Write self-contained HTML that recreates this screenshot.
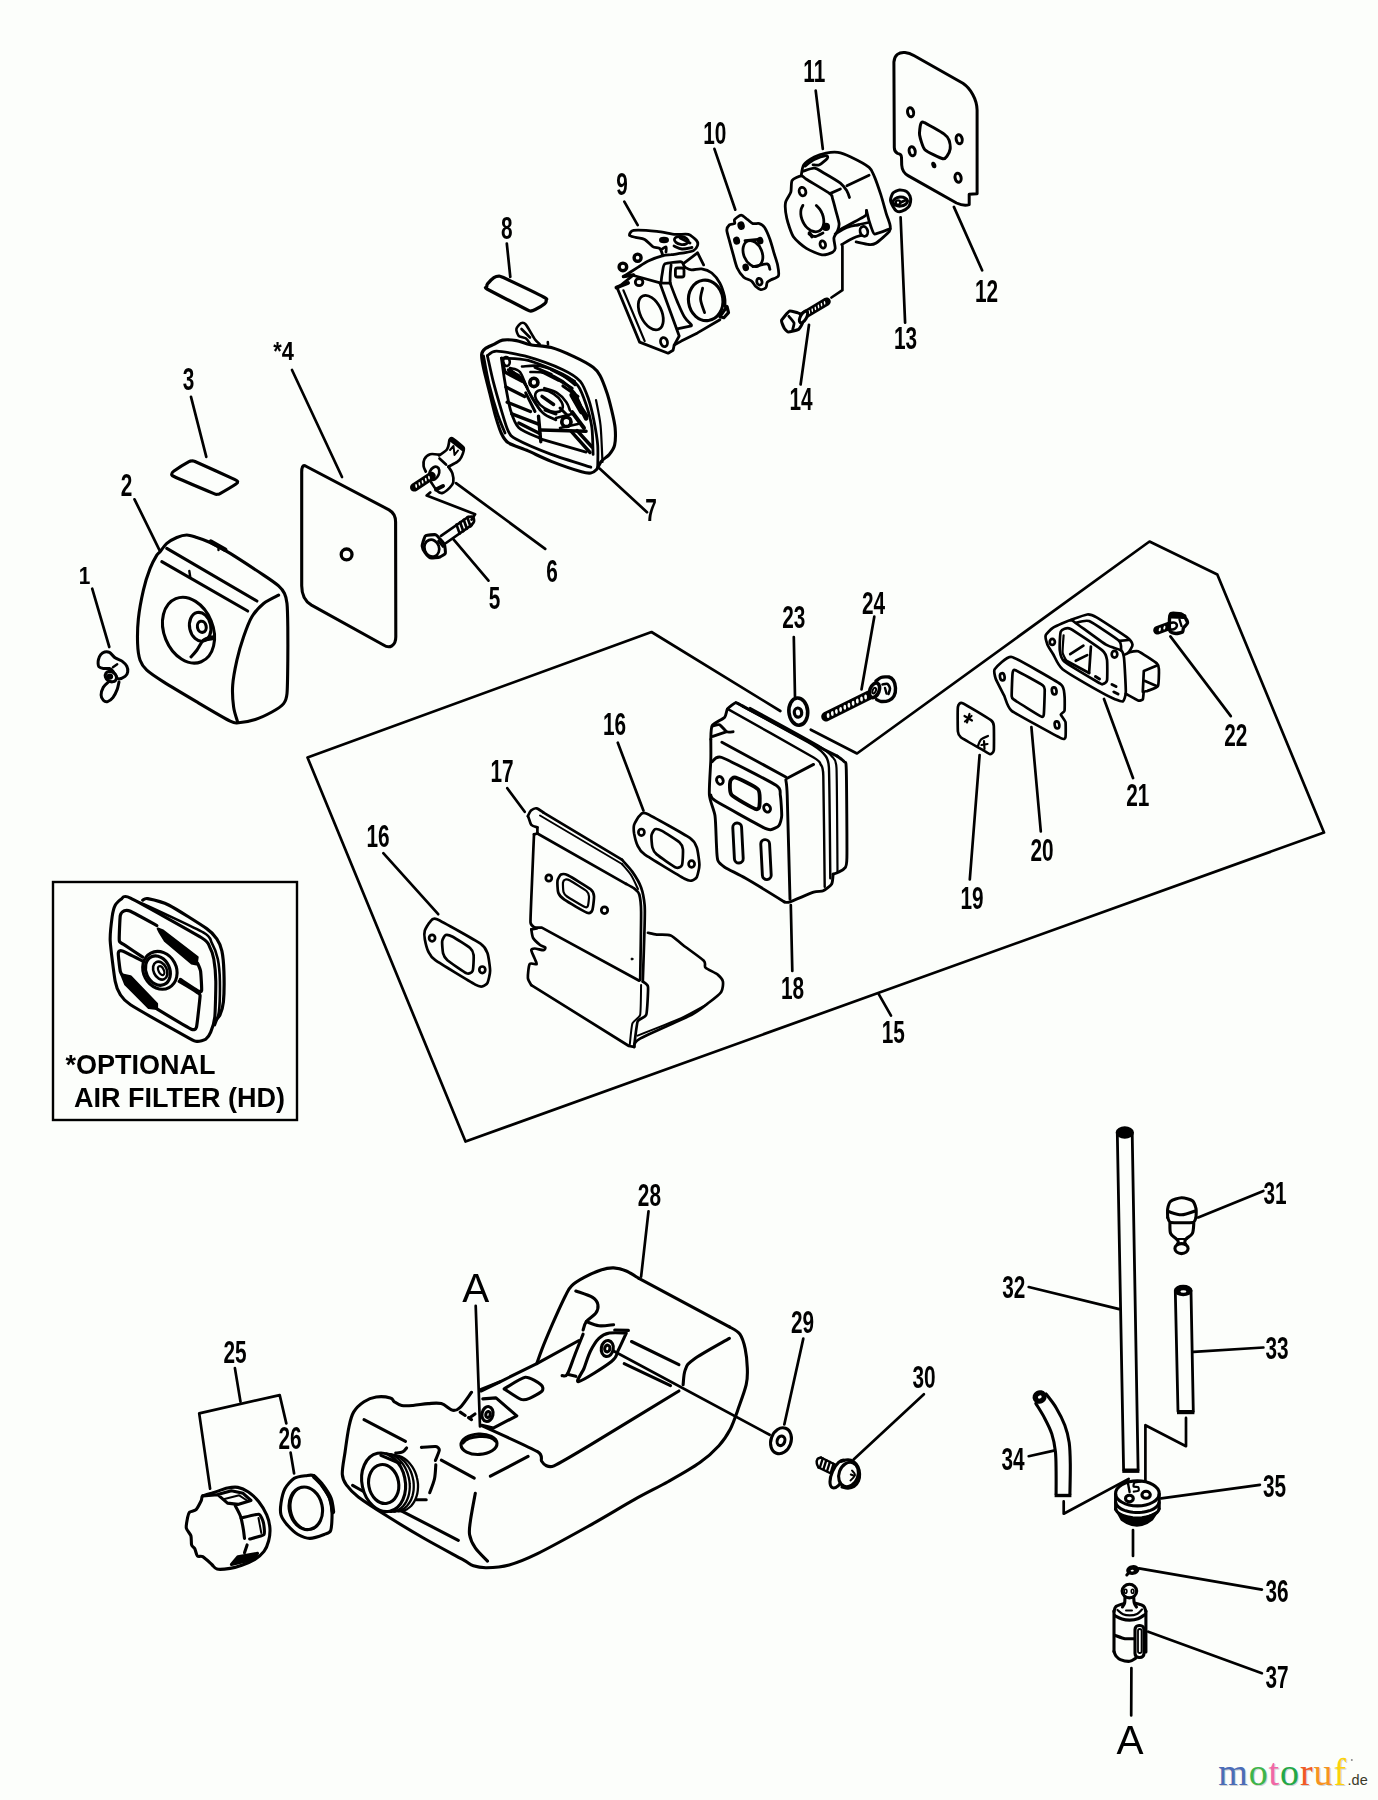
<!DOCTYPE html>
<html><head><meta charset="utf-8"><title>Parts diagram</title>
<style>
html,body{margin:0;padding:0;background:#fcfefb;}
svg{display:block;}
.n{font-family:"Liberation Sans",sans-serif;font-weight:bold;font-size:31.5px;fill:#000;text-anchor:middle;}
.t{font-family:"Liberation Sans",sans-serif;font-weight:bold;font-size:27px;fill:#000;}
.a{font-family:"Liberation Sans",sans-serif;font-size:40.5px;fill:#000;text-anchor:middle;}
.l{stroke:#000;stroke-width:2.7;fill:none;stroke-linecap:round;stroke-linejoin:round;}
.p{stroke:#000;stroke-width:3.1;fill:none;stroke-linecap:round;stroke-linejoin:round;}
.pf{stroke:#000;stroke-width:3.1;fill:#fcfefb;stroke-linecap:round;stroke-linejoin:round;}
.k{fill:#000;stroke:none;}
.w{font-family:"Liberation Serif",serif;font-size:44px;}
</style></head><body>
<svg width="1378" height="1800" viewBox="0 0 1378 1800">
<rect width="1378" height="1800" fill="#fcfefb"/>

<g class="l">
<line x1="92.2" y1="588.7" x2="109.3" y2="647"/>
<line x1="134.5" y1="499.3" x2="159.6" y2="550.4"/>
<line x1="191" y1="396.8" x2="206.3" y2="456.9"/>
<line x1="292" y1="370" x2="342" y2="477"/>
<line x1="506.8" y1="243.5" x2="510.3" y2="277"/>
<line x1="624.3" y1="201.7" x2="637.7" y2="225.1"/>
<line x1="599.6" y1="468.5" x2="647" y2="512.2"/>
<line x1="456" y1="483.1" x2="545.2" y2="548.9"/>
<line x1="453.3" y1="539.1" x2="488.5" y2="580.6"/>
<line x1="809" y1="324.8" x2="800.6" y2="384.5"/>
<line x1="815.7" y1="90.6" x2="822.8" y2="148.9"/>
<line x1="714.4" y1="148.9" x2="735.3" y2="209.7"/>
<line x1="953.9" y1="206.9" x2="982.1" y2="270.3"/>
<line x1="900.6" y1="217.3" x2="905.1" y2="322.6"/>
<line x1="793.8" y1="637" x2="795" y2="696.8"/>
<line x1="617.8" y1="742.7" x2="643.4" y2="810.6"/>
<line x1="507.3" y1="788.2" x2="524.7" y2="811.8"/>
<line x1="383.3" y1="853.2" x2="438.2" y2="914.2"/>
<line x1="790.8" y1="905" x2="792.3" y2="971"/>
<line x1="874.3" y1="616.7" x2="861.5" y2="689.5"/>
<line x1="979.6" y1="755" x2="969.8" y2="879.5"/>
<line x1="1031.4" y1="727.2" x2="1040.8" y2="831.5"/>
<line x1="878.6" y1="993.9" x2="891" y2="1015.6"/>
<line x1="1104" y1="699" x2="1133" y2="778"/>
<line x1="1170.4" y1="636.4" x2="1230.8" y2="716.1"/>
<line x1="234.9" y1="1368.1" x2="240.5" y2="1401.7"/>
<line x1="290.6" y1="1452.6" x2="294.1" y2="1473.5"/>
<line x1="648.5" y1="1211.4" x2="641.1" y2="1276.7"/>
<line x1="475.7" y1="1305.9" x2="480" y2="1426.5"/>
<line x1="613.6" y1="1351" x2="769.6" y2="1434.8"/>
<line x1="803.3" y1="1338.6" x2="784.3" y2="1424.5"/>
<line x1="923.9" y1="1394.2" x2="853.6" y2="1459.5"/>
<line x1="1263.4" y1="1191" x2="1198.2" y2="1217.4"/>
<line x1="1028.7" y1="1287" x2="1119.2" y2="1309.1"/>
<line x1="1263.4" y1="1347.5" x2="1193.5" y2="1351.9"/>
<line x1="1028.7" y1="1456.2" x2="1053.9" y2="1450.6"/>
<line x1="1259.9" y1="1484.8" x2="1161.3" y2="1498.4"/>
<line x1="1261.9" y1="1589.6" x2="1139" y2="1568.4"/>
<line x1="1261.9" y1="1673.2" x2="1148.2" y2="1631.7"/>
<line x1="1133" y1="1530" x2="1133" y2="1556"/>
<line x1="1131.4" y1="1668" x2="1131.2" y2="1715.5"/>
<polyline points="780.3,711 651.5,632 307.5,757.5 465.5,1141.5 1324,832.5 1217.3,574.5 1149.5,541.5 857,753.5 810.8,729.7"/>
<polyline points="842.4,246 842.4,290.2 831.5,297.5"/>
<polyline points="210.1,1488.7 199.2,1413.4 279.7,1395.1 286.3,1423.4"/>
<polyline points="1186,1417.9 1186,1446.2 1145.4,1425.2 1145.4,1484.7"/>
<polyline points="1063.7,1501.4 1063.7,1513.7 1128.7,1478.9"/>
</g>
<!-- p01_cover -->
<g class="p">
<path d="M160.1,551.7C161.5,550.1 164.5,545.4 166.8,543.4C169.1,541.4 174,538.7 176.8,537.5C179.6,536.3 184,535 186.8,535C189.6,535 193.5,536.5 196.8,537.5C200.1,538.5 205.5,540.3 210.2,542.5C214.9,544.7 222.7,548.8 230.2,553.4C237.7,558 256.8,570.6 263.6,575.1C270.4,579.6 275.7,583.3 278.6,585.9C281.5,588.5 283.3,591 284.5,593.5C285.7,596 286.5,598.8 287,603.5C287.5,608.2 287.7,618.9 287.8,626.8C287.9,634.7 287.9,650.8 287.8,660.2C287.7,669.6 287.6,687.5 287,693.6C286.4,699.7 285.7,701 283.6,703.6C281.5,706.2 275.9,709.8 271.9,712C267.9,714.2 260,718 255.3,719.5C250.6,721 242.1,722.6 238.6,722.8C235.1,723 236.1,724 230.2,721.1C224.3,718.2 206.1,707.4 196.8,701.9C187.5,696.4 170.5,686.3 163.5,681.9C156.5,677.5 150.1,673.2 146.8,670.2C143.5,667.2 141.4,663.9 140.1,660.2C138.8,656.5 137.8,649.3 137.6,643.5C137.4,637.7 137.6,626 138.4,618.5C139.2,611 141.8,597.1 143.4,590.1C145,583.1 148.2,573.3 150.1,568.4C152,563.5 155.4,557.4 156.8,555.1C158.2,552.8 158.7,553.3 160.1,551.7Z"/>
<path d="M278.6,595.1C276.1,596.5 268.1,599.9 263.6,603.5C259.2,607.1 255.2,611.2 251.9,616.8C248.6,622.3 246.1,629.6 243.6,636.8C241.1,644 238.7,652.1 236.9,660.2C235.1,668.3 233.2,677.4 232.7,685.2C232.1,693 232.8,700.8 233.6,706.9C234.4,713 237,719.5 237.7,722"/>
<path d="M166.8,548.4 L256.9,601"/>
<path d="M161.8,561.7 L247.7,611"/>
<path style="stroke-width:2.4" d="M189.3,570.9 L190.2,576.8"/>
<path style="stroke-width:4.5" d="M211,541.7 L225.2,549.7"/>
<path style="stroke-width:2.4" d="M218.5,546 L218.5,550"/>
<ellipse cx="188.5" cy="630.2" rx="24.5" ry="34" transform="rotate(-22 188.5 630.2)"/>
<ellipse cx="200.2" cy="626.8" rx="10.6" ry="14.6" transform="rotate(-12 200.2 626.8)"/>
<ellipse cx="201.8" cy="626.8" rx="4.4" ry="5.6" transform="rotate(-12 201.8 626.8)"/>
<path d="M211.9,636.8C210.5,637.4 206,638 203.5,640.2C201,642.4 198.9,647.4 196.8,650.2C194.7,653 192,655.8 191,656.9"/>
<path d="M203.5,640.2 L212.5,638.6"/>
<g style="stroke-width:3">
<path d="M98.5,659.4C98.8,658.2 99.9,655.6 100.7,654.6C101.5,653.6 103.4,652.3 104.6,652C105.8,651.7 107.9,651.6 109.4,652.4C110.9,653.2 113.8,656.9 115.5,658.1C117.2,659.3 120.5,660 122,661.1C123.5,662.2 126,664.8 126.8,666.3C127.6,667.8 127.9,670.7 127.7,672C127.5,673.3 126.3,675.5 125.1,676.4C123.9,677.3 120.2,678.9 119,679C117.8,679.1 117.1,677.9 116.3,676.8C115.5,675.7 113.8,672.2 112.9,671.1C112,670 110.7,668.8 109.4,668.5C108.1,668.2 104.7,668.7 103.3,668.5C101.9,668.3 99.6,667.5 98.9,666.8C98.2,666.1 98.2,664.3 98.1,663.3C98,662.3 98.2,660.6 98.5,659.4Z"/>
<path d="M108.5,682C107.7,682.8 104.4,685.2 103.3,687.2C102.2,689.2 101.1,693.1 101.1,695.1C101.1,697.1 102.3,699.3 103.3,700.3C104.3,701.3 106.2,702 107.6,701.6C109,701.2 111.5,699.5 112.9,697.7C114.3,695.9 116.3,691.8 117.2,689.4C118.1,687 118.7,683.1 119,682"/>
<ellipse class="pf" cx="110.9" cy="676.6" rx="6" ry="4.8" transform="rotate(35 110.9 676.6)"/>
<ellipse style="fill:#000;stroke-width:1.5" cx="109.8" cy="676.6" rx="2.6" ry="2.4"/>
<path style="stroke-width:2.4" d="M112.9,667.2 L117.2,664.2"/>
</g>
<path d="M171.9,473.6C171.9,473.1 172.6,472 174,471C175.4,470 187.5,462.4 189,461.6C190.5,460.8 191.4,460.9 191.9,460.9C192.4,460.9 191.4,459.9 195,461.5C198.6,463.1 231.4,477.9 235,479.6C238.6,481.3 237.6,481.5 237.7,481.9C237.8,482.3 237.5,483 236,484C234.5,485 221.6,492.7 220,493.6C218.4,494.5 217.5,494.3 217,494.3C216.5,494.3 217.6,495.1 214,493.6C210.4,492.1 177.5,478.2 174,476.5C170.5,474.8 171.9,474.1 171.9,473.6Z"/>
<path d="M305.5,466 L389,509.8 Q395.6,513.5 395.6,522 L395.8,636.8 C395.8,646 389.5,649 383.5,645 L311.5,605.2 C304.5,601 301.7,594 301.7,585.7 L301.7,473.2 Q301.5,464 305.5,466 Z"/>
<ellipse style="stroke-width:3.3" cx="346.6" cy="554.4" rx="5.4" ry="5.4"/>
</g>
<!-- p05_screws -->
<g class="p">
<g style="stroke-width:2.7">
<path d="M449.3,440.9C449.6,440.6 450.6,437.5 452,438.2C453.4,438.9 462.7,445.7 463.6,447.6C464.5,449.5 462,455.8 461.3,457.3C460.6,458.8 458.2,461.3 456.9,462.2C455.6,463.1 449.2,466.2 448.4,466.7"/>
<path style="stroke-width:4" d="M450.5,439.5 L462.5,449"/>
<path d="M449.3,440.9C448.9,442.3 448.8,446.9 447.1,449.3C445.4,451.7 440.4,454.5 439.1,455.5"/>
<path d="M439.5,458.5 L446,464.5"/>
<path style="stroke-width:2" d="M450,450 L453.5,446 L454.5,455 L458,450.5"/>
<path d="M439.1,454.7C437.6,454.6 432.6,453.5 430.2,454.2C427.8,454.9 425.5,457.1 424.4,459.1C423.3,461.1 423.4,464.1 423.6,466.2C423.8,468.3 425.4,470.7 425.8,471.6"/>
<path d="M448.4,466.7C449,467.7 451.7,471 452.4,473.3C453.1,475.6 453.7,480.1 453.3,482.2C452.9,484.3 451.4,486 449.8,487.6C448.2,489.2 444.6,492.4 442.7,492.9C440.8,493.4 439,492.7 437.3,491.1C435.6,489.5 432,483.5 431.1,482.2"/>
<path style="stroke-width:4" d="M436,489.5 L443,486"/>
<ellipse cx="434.2" cy="473.3" rx="4.6" ry="6.9" transform="rotate(25 434.2 473.3)"/>
<path d="M414.3,487.3 L431.5,476" style="stroke-width:8.6;stroke-linecap:round"/>
<ellipse cx="416.2" cy="486" rx="0.9" ry="1.9" transform="rotate(-8.3 416.2 486)" style="fill:#fcfefb;stroke:none"/>
<ellipse cx="419.4" cy="483.9" rx="0.9" ry="1.9" transform="rotate(-8.3 419.4 483.9)" style="fill:#fcfefb;stroke:none"/>
<ellipse cx="422.6" cy="481.8" rx="0.9" ry="1.9" transform="rotate(-8.3 422.6 481.8)" style="fill:#fcfefb;stroke:none"/>
<ellipse cx="425.8" cy="479.7" rx="0.9" ry="1.9" transform="rotate(-8.3 425.8 479.7)" style="fill:#fcfefb;stroke:none"/>
<ellipse cx="429" cy="477.6" rx="0.9" ry="1.9" transform="rotate(-8.3 429 477.6)" style="fill:#fcfefb;stroke:none"/>
<path d="M430.2,492.4 L426.7,495.6 L475.1,514.2 L471.6,519.6"/>
<path d="M468,517 L441,535.8"/>
<path d="M471.5,525.2 L446,543"/>
<path d="M468,517C468.7,517 472.2,516.2 473,516.8C473.8,517.4 474.2,520.4 474,521.5C473.8,522.6 471.8,524.7 471.5,525.2"/>
<path d="M456.5,524.6 L459.7,533.6"/>
<path d="M460.1,522.2 L463.3,531.2"/>
<path d="M463.7,519.8 L466.9,528.8"/>
<path d="M467.3,517.4 L470.5,526.4"/>
<path class="pf" d="M425.8,535.6C426.8,535.2 434.4,534.4 435.6,534.7C436.8,535 439.3,538.3 440,539.1C440.7,539.9 444,543.2 444.4,544.4C444.8,545.6 445.7,552.3 445.3,553.3C444.9,554.3 441.3,556.5 440,556.9C438.7,557.3 431.5,558.2 430.2,557.8C428.9,557.4 425.6,553.4 424.9,552.4C424.2,551.4 422.3,547.3 422.2,546.2C422.1,545.1 423.7,540 424,539.1C424.3,538.2 424.8,536 425.8,535.6Z"/>
<ellipse cx="431.8" cy="548.2" rx="7.3" ry="8.6" transform="rotate(-20 431.8 548.2)"/>
<path d="M438.5,541 L443,546.5"/>
</g>
</g>
<!-- p07_base -->
<g class="p">
<path style="stroke-width:3.3" d="M486.7,287C486.7,286.5 486.7,285 487.4,284.1C488.1,283.2 492.7,278.4 493.9,277.6C495.1,276.8 498.1,276.1 499,276.1C499.9,276.1 498.9,275.5 503.4,277.6C507.9,279.7 539.7,294.9 544,297.2C548.3,299.4 546.1,299.5 546.2,300.1C546.3,300.8 545.8,302.8 544.7,303.7C543.6,304.6 536.7,308.8 535.3,309.5C533.9,310.2 531.9,311 531,311C530.1,311 531,311.7 526.6,309.5C522.2,307.3 491.4,291.4 487.4,289.2C483.4,286.9 486.7,287.5 486.7,287Z"/>
<path d="M481.6,354.6C481.8,351.8 483.4,350.2 485.1,348.8C486.8,347.4 492.1,345.3 494.4,344.1C496.7,342.9 499.6,340.6 502.5,340.1C505.4,339.6 512.7,340 516.4,340.6C520.1,341.2 525.7,343.8 530.4,344.7C535.1,345.6 545.4,346 551.3,347.6C557.2,349.2 568.9,354.3 574.5,356.9C580.1,359.5 589.7,364.8 593.1,367.3C596.5,369.8 598.1,372.1 600,375.5C601.9,378.9 605.4,388.3 607,392.9C608.6,397.5 610.6,405.7 611.7,410.3C612.8,414.9 614.7,423.1 615.1,427.7C615.5,432.3 615.4,441.5 614.6,445.1C613.8,448.7 611.1,452.2 609.3,454.4C607.5,456.6 602.9,459.4 601.2,461.4C599.5,463.4 598,468 596.6,469.5C595.2,471 592.8,472.7 590.8,473C588.8,473.3 586.8,473.3 581.5,471.8C576.2,470.3 558.4,464.2 551.3,461.4C544.2,458.6 533.8,453.4 528.1,450.9C522.4,448.4 511.9,445.1 508.3,442.8C504.7,440.5 503.1,437.1 501.4,433.5C499.7,429.9 497.1,421.5 495.5,416.1C493.9,410.7 491.2,399.1 489.7,392.9C488.2,386.7 485,374.8 483.9,369.7C482.8,364.6 481.4,357.4 481.6,354.6Z"/>
<g style="stroke-width:2.8">
<path d="M487.4,355.7C488.6,355.1 491.3,350.9 496.7,351.1C502.1,351.3 519.3,354.4 528.1,356.9C536.9,359.4 555.9,366.4 562.9,369.7C569.9,373 576.9,377.4 580.3,381.3C583.7,385.2 586.5,393.3 588.4,398.7C590.3,404.1 593,415.7 594.2,421.9C595.4,428.1 597.2,439.1 597.7,445.1C598.2,451.1 597.7,464.3 597.7,467.2"/>
<path d="M590.8,467.2C585.5,465.5 561.2,458.1 551.3,454.4C541.4,450.7 522.1,442.4 516.4,439.3C510.7,436.2 510.3,435.1 508.3,431.2C506.3,427.3 503.4,417 501.4,410.3C499.4,403.6 495.1,388.6 493.2,381.3C491.3,374 488.2,359.1 487.4,355.7"/>
<path d="M483.5,356C484.2,359.7 487.1,376.3 489,384C490.9,391.7 495.4,407.5 497.5,414C499.6,420.5 504,430.5 505,433"/>
<path d="M501.4,358.1C505,358.4 519.9,358.2 528.1,360.4C536.3,362.6 556.2,370.9 562.9,374.3C569.6,377.7 574.9,381.9 578,385.9C581.1,389.9 584.2,398.9 586.1,404.5C588,410.1 591,421 591.9,427.7C592.8,434.4 592.9,450.8 593.1,454.4"/>
<path d="M586.1,452.1 L542,439.3"/>
<path d="M501.4,358.1C501.9,361.2 503.6,374.3 504.8,381.3C506,388.3 508.7,404.1 510.6,410.3C512.5,416.5 514.9,424 518.8,427.7C522.7,431.4 536.9,436.8 539.7,438.2"/>
<path style="stroke-width:2.2" d="M596,400C596.6,403.3 599.6,416.7 600.5,425C601.4,433.3 602.2,457.1 602.5,462"/>
</g>
<g style="stroke-width:3.4">
<path d="M504.8,372 L522.2,381.3"/>
<path d="M506,387.1 L524.6,396.4"/>
<path d="M507.2,402.2 L530.4,411.5"/>
<path d="M511.8,413.8 L538.5,424.2"/>
<path d="M518.8,423.1 L539.7,433.5"/>
<path d="M538.5,416.1 L540.8,441.7"/>
<path d="M540.8,430 L586.1,431.2"/>
<path d="M571,431.2 L590,452.5"/>
<path d="M577,430.5 L592,447"/>
<path d="M542,396.4 L553.6,404.5"/>
<path style="stroke-width:5" d="M574.5,398.7 L586.1,416.1"/>
<path style="stroke-width:4" d="M572,412 L584,428"/>
</g>
<g style="stroke-width:2.6">
<ellipse cx="549" cy="401" rx="15.5" ry="8.5" transform="rotate(33 549 401)"/>
<path d="M530.4,372C532.9,372.2 540.1,371.6 545.5,373.1C550.9,374.7 558.1,378 562.9,381.3C567.7,384.6 571.6,389 574.5,392.9C577.4,396.8 579.3,402.6 580.3,404.5"/>
<path d="M522,366.5C525,366.4 533.7,364.8 540,366C546.3,367.2 554.2,370.3 560,373.5C565.8,376.7 572.5,383.1 575,385"/>
<path d="M544.3,388.2C546.4,389 553.4,390.6 557.1,392.9C560.8,395.2 564.3,399.3 566.4,402.2C568.5,405.1 569.3,408.9 569.9,410.3"/>
<path d="M524,381C525.3,383.8 528.8,392.7 532,398C535.2,403.3 539,409.3 543,413C547,416.7 553.8,418.8 556,420"/>
<path d="M510,368C511.7,368.7 517,368.3 520,372C523,375.7 524.7,383.7 528,390C531.3,396.3 538,406.7 540,410"/>
<ellipse cx="533.9" cy="382.4" rx="4" ry="4.2"/>
<ellipse cx="566.4" cy="421.9" rx="4.6" ry="4.6"/>
<ellipse cx="506.5" cy="361.5" rx="3.2" ry="4.5" transform="rotate(-10 506.5 361.5)"/>
<path d="M556,418 L572,414"/>
<path d="M560,428 L578,424"/>
<path d="M530.4,344.1C529.8,343.3 527.2,339.4 525.7,338.3C524.2,337.2 520,337.2 518.8,336C517.6,334.8 516.1,330.7 516.4,329C516.7,327.3 519.9,323.8 521.1,323.2C522.3,322.6 523.8,322.2 525.7,324.4C527.6,326.6 533.1,336.9 535,339.5C536.9,342.1 539.1,343.5 539.7,344.1"/>
<path d="M521.5,329 L530,337.5"/>
<path d="M547.8,342 L548,344.5"/>
</g>
<g style="stroke-width:3">
<path d="M508.3,369.7 L518.8,375.5"/>
<path d="M535,367.3 L551.3,374.3"/>
<path d="M542,372 L558.2,380.1"/>
<path d="M551.3,369.7 L574.5,381.3"/>
<path d="M557.1,379 L572.2,388.2"/>
<path d="M562.9,385.9 L578,396.4"/>
<path d="M525.7,392.9 L535,411.5"/>
<path d="M503,363 L505,372"/>
<path d="M520,377 L527,387"/>
<path d="M545,410 L556,414"/>
<path d="M560,408 L568,416"/>
<path style="stroke-width:5.5" d="M572.2,395.2 L581.5,411.5"/>
<path style="stroke-width:4.5" d="M578,402.2 L586.1,418.4"/>
<path style="stroke-width:5" d="M510,371 L517,377"/>
<ellipse style="stroke-width:3.6" cx="566.4" cy="421.9" rx="4.6" ry="4.6"/>
<ellipse style="stroke-width:3.6" cx="533.9" cy="382.4" rx="4" ry="4.2"/>
</g>
</g>
<!-- p09_carb -->
<g class="p">
<g style="stroke-width:2.8">
<path d="M633.5,275 L623.4,283.1 L617.3,288.2 L639.6,342.1 L668.1,353.2 L673.1,350.2 L674.2,345.1 L679.2,336 L659.9,283.1"/>
<path style="stroke-width:2.2" d="M623.4,290.3 L644.7,341.1"/>
<path style="stroke-width:4" d="M616.5,287.5 L628,283"/>
<path d="M633.5,275.5 L661,283.1 L670.1,283.1"/>
<ellipse cx="650.8" cy="312.6" rx="10.6" ry="18.5" transform="rotate(-26 650.8 312.6)"/>
<ellipse cx="664" cy="342.1" rx="3.4" ry="4.6" transform="rotate(-15 664 342.1)"/>
<ellipse cx="639.1" cy="282.1" rx="3.8" ry="3.6"/>
<ellipse style="stroke-width:3.4" cx="637.6" cy="257.7" rx="3.5" ry="3.6"/>
<ellipse style="stroke-width:3.4" cx="622.9" cy="266.9" rx="3.8" ry="3.8"/>
<path d="M661,283.1C661.1,282 662.1,273.9 662.5,272C662.9,270.1 663.1,264.8 665,263.8C666.9,262.8 679.4,261.5 681.3,261.8C683.2,262.1 684,266.4 684.3,266.9"/>
<path d="M670.1,283.1C670.1,282.1 670.2,274.8 670.3,273C670.4,271.2 671,265.7 671.1,264.9"/>
<path d="M670.1,283.1C671.3,286.2 674.8,295.8 677.2,301.4C679.6,307 681.9,312.8 684.3,316.7C686.7,320.6 690.2,323.4 691.4,324.8"/>
<path d="M677.2,328.9 L691.4,325.8"/>
<rect x="675.4" y="268" width="8.6" height="9" rx="2"/>
<ellipse class="pf" cx="705.7" cy="300.4" rx="17.2" ry="20.3" transform="rotate(-8 705.7 300.4)"/>
<path d="M684.3,266.9C685.5,267.4 688.5,269.6 691.4,269.9C694.3,270.2 698.2,268.4 701.6,268.9C705,269.4 708.8,270.6 711.8,273C714.8,275.4 717.8,279.2 719.9,283.1C722,287 723.6,292.5 724.5,296.4C725.4,300.3 724.9,304.8 725,306.5"/>
<path d="M702.6,288.2C702.3,290.1 700.3,295.3 700.6,299.4C700.9,303.5 703.9,310.4 704.6,312.6"/>
<path style="stroke-width:3.2" d="M719.9,316.7 L727,306.5 L728.5,312.6 L723.9,317.7Z"/>
<path d="M719.9,319.7 L697.5,332.9 L681.3,341.1 L674.2,345.1"/>
<path d="M684.3,262.8 L696.5,253.7"/>
<path d="M697.5,252.7 L703.6,264.9"/>
<path d="M624.4,276C626.1,274.9 635.8,268.7 638.6,266.9C641.4,265.1 646,262.1 648.8,260.8C651.6,259.5 660.4,256.4 663,255.7C665.6,255 668.5,255 671.1,254.7C673.7,254.3 682.7,253.2 685.3,252.7C687.9,252.2 692.1,251.4 693.5,250.6C694.9,249.8 697.1,246.8 697.5,245.6C697.9,244.4 697.6,241.8 696.5,240.5C695.4,239.2 690.9,235.1 688.4,234.4C685.9,233.7 678.9,234.8 675.2,234.4C671.5,234 661.8,231.8 656.9,231.3C652,230.8 636.7,229.8 633.5,230.3C630.3,230.8 629.3,234.6 629.5,235.4C629.7,236.2 633.8,236.9 635.6,237.4C637.4,237.9 642.7,238.4 644.7,239.5C646.7,240.6 651,245.5 652.8,246.6C654.6,247.7 658.7,247.5 659.9,248.6C661.1,249.7 662.6,254.9 663,255.7"/>
<path style="stroke-width:3.6" d="M623.5,276.5 L633.5,275"/>
<ellipse style="fill:#000" cx="664" cy="240" rx="3.6" ry="1.8"/>
<ellipse cx="681.3" cy="240.5" rx="7" ry="4" transform="rotate(10 681.3 240.5)"/>
<path d="M674,246C675.3,246.5 679,248.8 682,249C685,249.2 690.3,247.8 692,247.5"/>
<path d="M680,238 L690,243"/>
<path d="M662,249C662.7,248.7 665.3,246.5 666,247C666.7,247.5 666,251.2 666,252"/>
</g>
</g>
<!-- p10_gasket_bracket -->
<g class="p">
<g style="stroke-width:2.8">
<path d="M734.6,219.7C735.5,218.6 739.4,215.1 741.1,215.1C742.8,215.1 746.1,218.6 747.7,219.7C749.3,220.8 751.3,223.1 752.9,223.6C754.5,224.1 757.8,223.1 759.4,223.6C761,224.1 763.2,225.4 764.6,227.5C766,229.6 768.7,236 769.9,239.3C771.1,242.6 772.8,248.8 773.8,252.3C774.8,255.8 777.1,262.3 777.7,265.4C778.3,268.5 779.3,273.9 778.4,275.8C777.5,277.7 772.7,278.9 771.2,279.8C769.7,280.7 767.9,281.4 767.2,282.4C766.5,283.4 766.8,286.6 765.9,287.6C765,288.6 762.1,289.8 760.7,289.6C759.3,289.4 756.7,287.4 755.5,286.3C754.3,285.2 753.2,282.3 751.6,281.1C750,279.9 745.6,278.9 743.7,277.2C741.8,275.5 738.6,271 737.2,268C735.8,265 734.3,258.6 733.3,254.9C732.3,251.2 730.3,243.9 729.4,240.6C728.5,237.3 726.8,232.2 726.8,230.1C726.8,228 728.4,225.8 729.4,224.9C730.4,224 733.9,224.3 734.6,223.6C735.3,222.9 733.7,220.8 734.6,219.7Z"/>
<ellipse cx="752.9" cy="253.6" rx="9.2" ry="13.6" transform="rotate(-22 752.9 253.6)"/>
<path d="M745,240.6 L758,239.3"/>
<path d="M752.9,266.7C754.8,266.3 764.9,263.7 767.2,264C769.5,264.3 769.5,268.6 769.9,269.3"/>
<ellipse style="fill:#000;stroke-width:1.5" cx="741.1" cy="225.6" rx="2.9" ry="3.5" transform="rotate(-15 741.1 225.6)"/>
<ellipse style="fill:#000;stroke-width:1.5" cx="736.6" cy="240.6" rx="2.7" ry="3.3" transform="rotate(-15 736.6 240.6)"/>
<ellipse style="fill:#000;stroke-width:1.5" cx="760.1" cy="240.6" rx="2.5" ry="3.1" transform="rotate(-15 760.1 240.6)"/>
<ellipse style="fill:#000;stroke-width:1.5" cx="745.7" cy="267.4" rx="2.5" ry="3.1" transform="rotate(-15 745.7 267.4)"/>
<ellipse cx="759.4" cy="281.7" rx="2.6" ry="3.4" transform="rotate(-15 759.4 281.7)"/>
<path d="M792.1,180.5C790.9,182.4 791.6,189.6 790.8,192.2C790,194.8 786,199.6 785.5,202.7C785,205.8 785.9,214.4 786.8,218.4C787.7,222.4 791.1,233.2 793.4,236.7C795.7,240.2 803.1,246.3 806.4,248.4C809.7,250.5 819,254.4 822.1,254.9C825.2,255.4 831.1,253.1 832.6,252.3C834.1,251.5 835,250.1 835.2,248.4C835.4,246.7 833.6,240.1 833.9,238C834.2,235.9 837.2,231.8 837.8,230.1C838.4,228.4 839.3,225.6 839.1,223.6C838.9,221.6 837.3,216 836.5,213.1C835.7,210.2 833.4,201.1 832.6,198.8C831.8,196.5 833,195.9 829.9,193.6C826.8,191.3 809.7,181.3 806.4,179.2C803.1,177.1 802.9,175.7 801.2,175.9C799.5,176.1 793.3,178.6 792.1,180.5Z"/>
<path d="M801.2,175.9C801.5,174.4 802.1,167.3 803.8,164.8C805.5,162.3 811.3,158.6 814.3,157C817.3,155.4 822.9,153.7 826,153.1C829.1,152.5 834.5,151.9 837.8,152.4C841.1,152.9 846.6,155 850.8,157C855,159 866,164.8 869.1,167.4C872.2,170 872.8,172.9 874.4,176.6C876,180.3 879.3,190 880.9,194.9C882.5,199.8 884.9,209.1 886.1,213.1C887.3,217.1 889.6,222.5 890,224.9C890.4,227.3 891.3,229 889.4,231.4C887.5,233.8 878.4,241.5 875.7,243.2C873,244.9 871.7,244.7 869.1,244.5C866.5,244.3 857.8,242.2 856.1,241.9"/>
<path d="M805.1,166.1C806.3,165.2 811.5,161 814.3,159.6C817.1,158.2 824.3,155.9 826,155.7C827.7,155.5 828.2,157.1 827.3,158.3C826.4,159.5 821.4,163.9 819.5,164.8C817.6,165.7 813.9,164.8 813,164.8"/>
<path d="M802.5,171.4C804.1,171 811.5,167.9 814.3,168.1C817.1,168.3 819.9,170.7 823.4,172.7C826.9,174.7 837.3,180.7 840.4,183.1C843.5,185.5 845.7,189 846.9,190.9C848.1,192.8 849.2,196.6 849.5,197.5"/>
<path d="M829.9,193.6 L840.4,189"/>
<path d="M846.9,185.7 L869.1,175.3"/>
<path d="M839.1,230.1C840.8,229.1 863.4,217.1 865.2,215.8C867,214.5 866.4,210.9 866.5,210.5"/>
<path d="M866.5,210.5C866.7,211.2 868.6,219.4 869.1,221C869.6,222.6 873,233.5 874.4,234C875.8,234.5 889,229.1 890,228.8"/>
<path d="M835.2,234C837.2,232.9 843,229 846.9,227.5C850.8,226 856.7,225.3 858.7,224.9"/>
<path d="M841.7,244.5C843.7,243.4 850.2,239.5 853.5,238C856.8,236.5 860,235.8 861.3,235.4"/>
<path d="M857,225 L868.5,222.5"/>
<ellipse cx="863.9" cy="231.4" rx="3.8" ry="5" transform="rotate(-15 863.9 231.4)"/>
<path d="M816.3,205.4C816.9,206 818.8,207.8 819.9,209.3C820.9,210.7 821.8,212.4 822.4,214.1C823.1,215.8 823.5,217.6 823.7,219.3C823.9,221 823.9,222.7 823.6,224.2C823.3,225.7 822.8,227.1 822.1,228.3C821.4,229.4 820.4,230.3 819.3,230.9C818.3,231.5 817,231.8 815.7,231.8C814.4,231.8 813,231.5 811.6,230.9C810.3,230.3 808.9,229.4 807.7,228.3C806.4,227.2 805.2,225.7 804.3,224.2C803.3,222.7 802.5,221 801.9,219.3C801.3,217.6 800.9,215.8 800.8,214.1C800.7,212.4 800.8,210.7 801.1,209.3C801.5,207.8 802.6,206.1 802.9,205.4"/>
<ellipse style="fill:#000;stroke-width:1.5" cx="826" cy="226.9" rx="3.3" ry="3.3"/>
<path d="M809,234C810,234.4 812.7,236.7 815,236.5C817.3,236.3 821.7,233.6 823,233"/>
<path style="stroke-width:3.6" d="M809.5,233 L812,236.5"/>
<ellipse cx="802.5" cy="191.6" rx="3.3" ry="4.3" transform="rotate(-15 802.5 191.6)"/>
<ellipse cx="822.8" cy="244.5" rx="2.7" ry="3.7" transform="rotate(-15 822.8 244.5)"/>
<path d="M826.6,301.6 L803.5,315.5" style="stroke-width:8.4;stroke-linecap:round"/>
<ellipse cx="824.6" cy="302.8" rx="0.8" ry="1.9" transform="rotate(174 824.6 302.8)" style="fill:#fcfefb;stroke:none"/>
<ellipse cx="821.5" cy="304.6" rx="0.8" ry="1.9" transform="rotate(174 821.5 304.6)" style="fill:#fcfefb;stroke:none"/>
<ellipse cx="818.5" cy="306.5" rx="0.8" ry="1.9" transform="rotate(174 818.5 306.5)" style="fill:#fcfefb;stroke:none"/>
<ellipse cx="815.4" cy="308.3" rx="0.8" ry="1.9" transform="rotate(174 815.4 308.3)" style="fill:#fcfefb;stroke:none"/>
<ellipse cx="812.3" cy="310.2" rx="0.8" ry="1.9" transform="rotate(174 812.3 310.2)" style="fill:#fcfefb;stroke:none"/>
<ellipse cx="809.3" cy="312" rx="0.8" ry="1.9" transform="rotate(174 809.3 312)" style="fill:#fcfefb;stroke:none"/>
<ellipse cx="806.2" cy="313.9" rx="0.8" ry="1.9" transform="rotate(174 806.2 313.9)" style="fill:#fcfefb;stroke:none"/>
<path class="pf" d="M781.6,320.3C782,319.2 788.3,311.5 789.5,311.1C790.7,310.7 799,312.9 799.9,313.7C800.8,314.5 802.6,321.9 802.5,322.9C802.4,323.9 799.6,328.8 798.6,329.4C797.6,330 789.1,332.1 788.1,332C787.1,331.9 784.6,328.9 784.2,328.1C783.8,327.3 781.2,321.4 781.6,320.3Z"/>
<path d="M788.8,316.3C789.3,317 793.6,321.6 794,322.9C794.4,324.2 792.8,328.8 792.7,329.4"/>
<ellipse class="pf" cx="803.5" cy="317" rx="3" ry="6.5" transform="rotate(30 803.5 317)"/>
</g>
</g>
<!-- p12_gasket -->
<g class="p">
<g style="stroke-width:3">
<path d="M893.9,62 C894.5,55 899,52 905,52.6 C909,53 912,54.5 914.3,55.8 L962.9,83.3 C970.5,88.5 976.8,99 977.1,110 L977.1,193.8 L969.2,194.3 L969.2,204.6 C966,205.6 960,204.6 956.5,203 L908,175.6 C903.5,173 902,170 901.7,165 L901.5,157.5 C901.3,154.5 900.3,154.2 897.5,153.3 C895.2,152.3 894.3,150 894.3,147.6 Z"/>
<path d="M920.6,124.4C921,123.1 921.5,121.3 923.8,122.3C926.1,123.2 941.4,132.1 943.9,133.9C946.4,135.7 948.5,138.7 949.1,140.2C949.7,141.7 950.4,147.1 950.2,148.7C950,150.3 947.7,155.1 947,156.1C946.3,157.1 945,159.3 942.8,158.7C940.6,158.1 927.2,152.1 924.9,149.7C922.6,147.3 920,137.5 919.6,135C919.2,132.5 920.2,125.7 920.6,124.4Z"/>
<ellipse cx="910.6" cy="112.3" rx="3" ry="4.6" transform="rotate(-12 910.6 112.3)"/>
<ellipse cx="959.2" cy="139.2" rx="3" ry="4.6" transform="rotate(-12 959.2 139.2)"/>
<ellipse cx="912.2" cy="151.3" rx="3" ry="4.6" transform="rotate(-12 912.2 151.3)"/>
<ellipse cx="958.1" cy="177.7" rx="3" ry="4.6" transform="rotate(-12 958.1 177.7)"/>
<ellipse style="fill:#000;stroke-width:1.6" cx="933.8" cy="165" rx="1.6" ry="2.6" transform="rotate(-20 933.8 165)"/>
<path d="M890.5,200C890.5,198.4 892,194.2 893,193C894,191.8 897.9,190.2 899.5,190C901.1,189.8 905.3,190.8 906.5,191.5C907.7,192.2 909.5,194.8 910,196C910.5,197.2 910.7,200.7 910.5,202C910.3,203.3 909.5,205.9 908.5,207C907.5,208.1 903.4,210.7 902,211.2C900.6,211.7 897.5,211.5 896.5,211C895.5,210.5 893.7,207.8 893,206.5C892.3,205.2 890.5,201.6 890.5,200Z"/>
<ellipse cx="900.3" cy="201.6" rx="7.3" ry="4.5" transform="rotate(-5 900.3 201.6)"/>
<ellipse style="stroke-width:2.2" cx="898" cy="202.6" rx="2.2" ry="2.2"/>
<path d="M900.5,202.5 L906,200"/>
</g>
</g>
<!-- p17_shield -->
<g class="p">
<g style="stroke-width:2.7">
<path d="M527.9,816.1C528.3,815.4 529.8,811.5 531,810.5C532.2,809.5 534.9,808 536.6,808.3C538.3,808.6 542.6,812 543.5,812.6"/>
<path d="M543.5,812.6 L621.9,859.7"/>
<path d="M621.9,859.7C623.3,861.3 629.8,868.2 632.4,871.9C635,875.6 639.5,883.1 641.1,887.5C642.7,891.9 644.1,899.8 644.6,904.9C645.1,910 644.8,915.6 644.6,925.8C644.4,936 643,974.2 642.8,981.6"/>
<path d="M527.9,816.1C528,816.3 528.2,816.7 528.7,817.9C529.2,819.1 530.1,823.5 531.3,824.8C532.5,826.1 536.6,827.1 537.4,827.4"/>
<path d="M534,834.4 L537.4,833.5"/>
<path d="M537.4,827.4 L537.4,833.5"/>
<path d="M537.4,833.5 L626,883.8"/>
<path d="M626,883.8C627.1,884.4 632.3,887 634.1,888.4C635.9,889.8 638.4,891.4 639.3,894.5C640.2,897.6 641,900.5 641.1,911.9C641.2,923.3 640.3,970.7 640.2,979.8"/>
<path style="stroke-width:2" d="M540,815.5 L622,864"/>
<path style="stroke-width:2" d="M622,864C623.5,865.8 628.3,870.8 631,875C633.7,879.2 636.8,886.7 638,889"/>
<path d="M534,834.4C533.9,837.2 532.4,871.2 532.2,877.1C532,883 530.3,919 530.5,922.4C530.7,925.8 534.5,927.3 534.8,927.6"/>
<path d="M534.8,927.6 L541.8,927.6 L639.3,980.7"/>
<path d="M531.3,929.3C531.5,930.3 532.1,936.2 533.1,938C534.1,939.8 538.7,943.9 540.1,945C541.5,946.1 544.9,947 545.3,947.6C545.7,948.2 544.7,950.1 543.5,950.2C542.3,950.3 536.2,948.5 534.8,948.5C533.4,948.5 531.3,949 531.3,950.2C531.3,951.4 534.2,957.3 534.8,958.9C535.4,960.5 537.2,963.6 536.6,964.2C536,964.8 530.6,962.6 529.6,964.2C528.6,965.8 527.7,975.7 527.9,978.1C528.1,980.5 530.9,984.3 531.3,985.1"/>
<path d="M531.3,929.3 L537,928.5"/>
<path d="M531.3,985.1 L628.9,1046 L634.1,1046.9"/>
<path d="M642.8,981.6C643.2,982 647.7,984 648,986.8C648.3,989.6 647.2,1011.8 646.3,1014.7C645.4,1017.6 638.6,1018.9 637.6,1021.6C636.6,1024.3 634.4,1044.8 634.1,1046.9"/>
<path style="stroke-width:2" d="M641.1,985.1C641,987.6 640.9,1011.5 640.2,1014.7C639.5,1017.9 633.3,1020.9 632.4,1023.4C631.5,1025.9 630,1042.6 629.8,1044.3"/>
<path d="M648,932.8C649,933 654.1,934.3 656.7,934.6C659.3,934.9 667.6,934.2 670.7,935.4C673.8,936.6 679,942 682.9,945C686.8,948 701.2,958.1 703.8,960.7C706.4,963.3 703.9,966 705.5,967.6C707.1,969.2 715.7,973 717.7,974.6C719.7,976.2 722.5,979.6 722.9,981.6C723.3,983.6 722.8,989.6 721.2,992C719.6,994.4 712.5,999.9 709,1002.5C705.5,1005.1 699.7,1010.4 691.6,1014.7C683.5,1019 646,1035.3 639.3,1039.1C632.6,1042.9 634.7,1046 634.1,1046.9"/>
<path style="stroke-width:2" d="M637.6,1035.6C642,1033.9 674.1,1021.3 681.1,1018.2C688.1,1015.1 704.7,1005.6 707.3,1004.2"/>
<path d="M557.5,880.6C557.8,878.8 560,875 561,874.5C562,874 564.9,873.8 567.9,875.3C570.9,876.8 588,887.2 590.6,889.3C593.2,891.4 593.8,894.1 594,896.2C594.2,898.3 593,908.5 592.3,910.2C591.6,911.9 589.9,913.8 587.1,912.8C584.3,911.8 567.3,901.7 564.4,899.7C561.5,897.7 559,894.7 558.3,892.8C557.6,890.9 557.2,882.4 557.5,880.6Z"/>
<path style="stroke-width:2.2" d="M563,882.5C563.2,881.2 564.8,879.7 565.5,879.5C566.2,879.3 567.9,879.4 570,880.5C572.1,881.6 584.6,889.4 586.5,891C588.4,892.6 588.9,895 589,896.5C589.1,898 588.4,904.5 588,905.5C587.6,906.5 587.1,907.9 585,907C582.9,906.1 569.1,898 567,896.5C564.9,895 563.9,893.4 563.5,892C563.1,890.6 562.8,883.8 563,882.5Z"/>
<ellipse cx="548.8" cy="878" rx="3" ry="3.2"/>
<ellipse cx="604.5" cy="910.2" rx="3.2" ry="3.4"/>
<ellipse style="fill:#000;stroke-width:1" cx="632" cy="959" rx="1" ry="1"/>
<path d="M634.1,824.8C634.6,823.1 638.1,817.2 639.3,816.1C640.5,815 641.2,811.3 646.3,813.5C651.3,815.7 684.8,834.5 689.8,837.9C694.8,841.3 695.8,844.8 696.8,847.5C697.8,850.2 699.4,861.9 699.4,864.9C699.4,867.9 697.6,875.5 696.8,877.1C696,878.7 692.8,880.4 691.6,880.6C690.4,880.8 689.3,881.4 684.6,878.8C679.9,876.2 649.3,857.7 644.6,854.4C639.9,851.1 638.6,847.8 637.6,845.7C636.6,843.6 634.5,835.6 634.1,833.5C633.8,831.4 633.6,826.5 634.1,824.8Z"/>
<path d="M651.5,835.3C651.8,833.5 654,829.6 655,829.2C656,828.8 659.6,829.6 662,830.9C664.4,832.2 677.3,840.4 679.4,842.2C681.5,844 682.6,846.9 682.9,849.2C683.2,851.5 682.7,863.1 682,864.9C681.3,866.7 678.4,868.5 675.9,867.5C673.4,866.5 659.1,856.4 656.7,854.4C654.4,852.4 652.9,849.4 652.4,847.5C651.9,845.6 651.2,837.1 651.5,835.3Z"/>
<ellipse cx="641.4" cy="832.3" rx="3" ry="3.3"/>
<ellipse cx="691.6" cy="864" rx="3" ry="3.3"/>
<path d="M424.8,930.6C425.3,928.9 428.8,923 430,921.9C431.2,920.8 431.9,917.1 437,919.3C442,921.5 475.4,940.3 480.5,943.7C485.5,947.1 486.5,950.6 487.5,953.3C488.5,956 490.1,967.7 490.1,970.7C490.1,973.7 488.3,981.3 487.5,982.9C486.7,984.5 483.5,986.2 482.3,986.4C481.1,986.6 480,987.2 475.3,984.6C470.6,982 440,963.5 435.3,960.2C430.6,956.9 429.4,953.6 428.3,951.5C427.2,949.4 425.2,941.4 424.8,939.3C424.4,937.2 424.3,932.3 424.8,930.6Z"/>
<path d="M442.2,941.1C442.5,939.3 444.6,935.4 445.7,935C446.8,934.6 450.3,935.4 452.7,936.7C455.1,938 468,946.2 470.1,948C472.2,949.8 473.3,952.7 473.6,955C473.9,957.3 473.4,968.9 472.7,970.7C472,972.5 469.1,974.3 466.6,973.3C464.1,972.2 449.8,962.2 447.4,960.2C445.1,958.2 443.6,955.2 443.1,953.3C442.6,951.4 441.9,942.9 442.2,941.1Z"/>
<ellipse cx="432.1" cy="938.1" rx="3" ry="3.3"/>
<ellipse cx="482.3" cy="969.8" rx="3" ry="3.3"/>
</g>
</g>
<!-- p18_muffler -->
<g class="p">
<g style="stroke-width:2.9">
<path d="M710.8,739.4C710.9,738 710.8,727.8 712.2,725.6C713.6,723.4 723.2,718.9 724.7,717.2C726.2,715.5 726.4,710.4 727.5,708.9C728.6,707.4 734.3,702.9 735.8,702.6C737.3,702.3 742.1,705.8 742.8,706.1"/>
<path d="M742.8,706.1 L815,745 L837.2,756.1"/>
<path d="M837.2,756.1C838,756.8 843.1,760.1 844.2,761.7C845.3,763.3 846,758.8 846.3,770C846.6,781.2 847.1,846 846.9,857.5C846.7,869 845.3,866.8 844.2,868.6C843.1,870.4 838.5,872.1 837.2,872.8C835.9,873.5 833.6,874 833.1,874.2"/>
<path d="M833.1,874.2C832.9,875.3 832.8,882 831.7,883.9C830.6,885.8 825.4,889.8 823.3,890.8C821.2,891.8 817.5,890.9 813.6,892.2C809.7,893.5 793.4,900.8 790,901.9C786.6,903 785.1,901.9 784.4,901.9"/>
<path d="M784.4,901.9C779.9,899.1 752.6,882.3 745.6,878.3C738.6,874.3 727.9,869.3 724.7,867.2C721.5,865.1 718.8,863.1 717.8,860.3C716.8,857.5 716.7,848.8 716.4,843.6C716.1,838.4 715.8,821.5 715,815.8C714.2,810.1 709.9,801.5 709.4,795C708.9,788.5 710.6,766.8 710.8,760.3C711,753.8 710.8,741.8 710.8,739.4"/>
<path d="M721.9,742.2 L785.8,776.9"/>
<path d="M787.2,778.3 L813.6,764.4"/>
<path d="M785.8,779.7C785.9,781.2 786.8,783 787.2,795C787.6,807 789.7,888.8 790,899.2"/>
<path d="M712.8,726C713.5,725.9 718.3,724.2 719.7,724.8C721.1,725.4 725.4,731.1 726.7,731.8C728,732.5 732.5,731.8 733.1,731.8"/>
<path d="M712.8,736.4 L726.1,731.8"/>
<path style="stroke-width:2.4" d="M735.8,702.6C741.8,705.9 800.8,738 808.1,742.2C815.4,746.4 821.6,751.2 823.3,753.3C825,755.4 828.3,756.8 828.9,767.2C829.5,777.6 830.2,869 830.3,878.3"/>
<path style="stroke-width:2.4" d="M727.5,708.9C734.7,712.9 805.8,752.9 813.6,757.5C821.4,762.1 819.8,762.9 820.6,764.4C821.4,765.9 823,765.4 823.3,775.6C823.6,785.8 824.6,877.4 824.7,886.7"/>
<path style="stroke-width:2.2" d="M750,708C755.7,711.1 811.2,741.5 818,745.5C824.8,749.5 830.5,754.6 832,756.5C833.5,758.4 836,758.4 836.5,768C837,777.6 837.4,863.3 837.5,872"/>
<path d="M712.2,761.7C713.2,761.3 715.5,755.1 721.9,757.5C728.3,759.9 770.3,781.5 776.1,785.3C781.9,789 779.7,792 780.3,795C780.9,798 781.8,812.7 781.7,815.8C781.6,818.9 780,824.2 778.9,825.6C777.8,827 772.3,829.6 770.6,829.7C768.9,829.8 767.8,829.8 762.2,826.9C756.6,824 720.1,803.8 715,800.6C709.9,797.4 711.2,795.6 710.8,795"/>
<path style="stroke-width:3.8" d="M730.3,781.1C730.7,779.4 733,776.8 735.8,777.6C738.6,778.4 755.7,786.5 758.1,789.4C760.5,792.2 759.7,804.1 759.4,806.1C759.1,808.1 758.1,810 755.3,808.9C752.5,807.8 734.2,797.8 731.7,795C729.2,792.2 729.9,782.8 730.3,781.1Z"/>
<ellipse cx="719.9" cy="780.4" rx="3.2" ry="4" transform="rotate(-25 719.9 780.4)"/>
<ellipse cx="767.1" cy="808.2" rx="3.2" ry="4" transform="rotate(-25 767.1 808.2)"/>
<rect x="733.6" y="823" width="8.8" height="40" rx="4.4" transform="rotate(-3 738 843)"/>
<rect x="761.6" y="839.6" width="8.8" height="40" rx="4.4" transform="rotate(-3 766 860)"/>
<ellipse style="stroke-width:3.6" cx="798.3" cy="711.6" rx="9.4" ry="13.6" transform="rotate(-5 798.3 711.6)"/>
<ellipse style="stroke-width:3.2" cx="798" cy="712.6" rx="3.7" ry="4.6" transform="rotate(-5 798 712.6)"/>
</g>
</g>
<!-- p19_manifold -->
<g class="p">
<g style="stroke-width:2.7">
<path d="M957.9,707C958.3,704.6 959.9,702.1 962.6,703.2C965.4,704.3 988.3,718.3 990.9,720.2C993.5,722.1 993.6,723.3 993.8,725.8C994,728.3 994.1,748 993.8,750.4C993.5,752.8 990.9,754.2 990,754.2C989.1,754.2 985.8,751.8 983.4,750.4C981,749 962.9,738.8 960.8,737.2C958.7,735.6 958.1,734 957.9,731.5C957.7,729 957.5,709.4 957.9,707Z"/>
<path style="stroke-width:2.2" d="M964.5,716 L972,720.5"/>
<path style="stroke-width:2.2" d="M969.5,714 L967,722.5"/>
<path style="stroke-width:2.2" d="M965,721.5 L971.5,716"/>
<path style="stroke-width:2.2" d="M978,746C978.5,744.9 979.3,741.2 981,739.5C982.7,737.8 986.8,736.6 988,736"/>
<path style="stroke-width:2.2" d="M984,741 L984.5,749"/>
<path style="stroke-width:2.2" d="M981.5,745 L987.5,744"/>
<path d="M994.7,669.2C995.9,667.6 1006.9,655.9 1011.7,657C1016.5,658.1 1056.9,681.5 1060.8,684.3C1064.7,687.1 1064.2,693.8 1064.5,695.7C1064.8,697.6 1064.8,709.4 1064.5,710.8C1064.2,712.2 1060.7,713.7 1060.8,714.5C1060.9,715.3 1065.2,720.4 1065.5,722.1C1065.8,723.8 1065.8,736 1065.5,737.2C1065.2,738.4 1064.7,740 1060.8,738.1C1056.9,736.2 1015.9,713.9 1011.7,710.8C1007.5,707.7 1005.4,698.1 1004.2,695.7C1003,693.3 996.4,680.6 995.7,678.7C995,676.8 993.5,670.8 994.7,669.2Z"/>
<path d="M1012.6,673C1012.9,671.1 1013.3,669.3 1015.5,670.2C1017.7,671.1 1040.7,683.8 1042.8,685.3C1044.9,686.8 1044.6,687.9 1044.7,690C1044.8,692.1 1044.1,712.6 1043.8,714.5C1043.5,716.4 1043.1,717.5 1040.9,716.4C1038.7,715.3 1015.7,700.9 1013.6,699.4C1011.5,697.9 1011.8,697.6 1011.7,695.7C1011.6,693.8 1012.3,674.9 1012.6,673Z"/>
<ellipse cx="1002.3" cy="676.8" rx="2.3" ry="3.6" transform="rotate(-10 1002.3 676.8)"/>
<ellipse cx="1054.2" cy="690.9" rx="2.3" ry="3.6" transform="rotate(-10 1054.2 690.9)"/>
<ellipse cx="1057" cy="724.9" rx="2.3" ry="3.6" transform="rotate(-10 1057 724.9)"/>
<path d="M1045.7,635.3C1046.3,633.6 1050.8,629.2 1053.2,627.7C1055.7,626.2 1067.9,620.7 1070.2,620.2C1072.5,619.7 1072.2,620.5 1075.8,623C1079.4,625.5 1101.5,642 1106,644.7C1110.5,647.4 1119.3,649.1 1121.1,650.4C1122.9,651.7 1123.5,653.8 1124,657.9C1124.5,662 1125.9,687.6 1125.8,691.9C1125.7,696.2 1124,700.5 1123,701.3C1122,702 1117.8,700.3 1115.5,699.4C1113.2,698.5 1105.7,694.9 1100.4,691.9C1095.1,688.9 1067.3,673 1062.6,669.2C1057.9,665.4 1054.7,656.7 1053.2,654.2C1051.7,651.8 1048.2,646.6 1047.5,644.7C1046.8,642.8 1045.1,637 1045.7,635.3Z"/>
<path d="M1070.2,620.2C1071.9,619.6 1084.6,614.8 1087.2,614.5C1089.8,614.2 1092.6,615.1 1096.6,617.4C1100.6,619.7 1123.2,634.5 1126.8,637.2C1130.4,639.9 1132.3,643.2 1132.5,644.7C1132.7,646.2 1129.5,651.3 1128.7,652.3C1127.9,653.3 1124.5,654.7 1124,655"/>
<path d="M1075.8,623C1076.9,622.8 1085.5,619.6 1089.1,621.1C1092.7,622.6 1116.5,638.5 1119.2,640.9C1121.9,643.3 1120.9,649.6 1121.1,650.4"/>
<path d="M1119.2,640.9 L1128.7,640"/>
<path d="M1128.7,652.3C1129.5,652.2 1135.7,650.4 1138.1,651.3C1140.5,652.2 1155.3,662.1 1157,663.6C1158.7,665.1 1158.8,667.3 1158.9,669.2C1159,671.1 1158.9,684.4 1157.9,686.2C1157,688 1148.7,690.4 1147.5,690.9C1146.3,691.4 1144.2,691.2 1143.8,691.9C1143.4,692.6 1143.3,698.7 1142.8,699.4C1142.3,700.1 1139.5,700.9 1138.1,700.4C1136.7,699.9 1126.8,694.3 1125.8,693.8"/>
<path d="M1157,665.5 L1143.8,671.1 L1142.8,691.9"/>
<path d="M1145,681 L1156.5,686"/>
<path d="M1060.8,631.5C1061.7,629.7 1066.7,627.1 1070.2,628.7C1073.7,630.3 1099.2,647.8 1102.3,650.4C1105.4,653 1106.6,657.3 1107,659.8C1107.4,662.3 1107.4,678.6 1107,680.6C1106.6,682.6 1103,684.1 1102.3,684.3C1101.6,684.5 1101.7,684.4 1098.5,682.5C1095.3,680.6 1067.7,664.4 1064.5,661.7C1061.3,659 1060.1,652.9 1059.8,650.4C1059.5,647.9 1059.9,633.3 1060.8,631.5Z"/>
<path style="stroke-width:2.2" d="M1063.6,635.3C1063.5,637 1062.4,649.8 1062.6,652.3C1062.8,654.8 1065.7,659.2 1066,660"/>
<path d="M1070.2,654.2 L1083.4,645.7"/>
<path d="M1075.8,660.8 L1087.2,655.1"/>
<path d="M1090.9,646.6 L1089.1,673"/>
<path d="M1064.5,659.8 L1089.1,673"/>
<ellipse cx="1052.3" cy="641.9" rx="2.6" ry="3"/>
<ellipse cx="1114.5" cy="654.2" rx="2.8" ry="3.4"/>
<path style="stroke-width:3" d="M1095.5,676.5 L1099.5,679"/>
<path style="stroke-width:3" d="M1112,684.5 L1116,686.5"/>
<path style="stroke-width:3" d="M1114,692 L1118,694"/>
</g>
<g style="stroke-width:3">
<path d="M1157.5,630.3 L1169,626" style="stroke-width:8.6;stroke-linecap:round"/>
<ellipse cx="1159.8" cy="629.4" rx="1" ry="1.9" transform="rotate(14.5 1159.8 629.4)" style="fill:#fcfefb;stroke:none"/>
<ellipse cx="1164.4" cy="627.7" rx="1" ry="1.9" transform="rotate(14.5 1164.4 627.7)" style="fill:#fcfefb;stroke:none"/>
<path class="pf" style="stroke-width:3.4" d="M1169.5,619C1169.6,617.2 1169.8,614 1171,613.5C1172.2,613 1179.6,613.6 1181,614C1182.4,614.4 1184.3,616.6 1185,617.5C1185.7,618.4 1187.7,622 1187.5,623C1187.3,624 1184,627.1 1183.5,628C1183,628.9 1183.2,631.5 1182.5,632C1181.8,632.5 1177.2,633.6 1176,633.5C1174.8,633.4 1170.7,632.5 1170,631C1169.3,629.5 1169.4,620.8 1169.5,619Z"/>
<path style="stroke-width:5" d="M1171,616 L1184,616.5"/>
<ellipse style="stroke-width:2.6" cx="1172.5" cy="626" rx="4.5" ry="3.4" transform="rotate(-20 1172.5 626)"/>
<path style="stroke-width:2.4" d="M1179.5,619.5 L1181.5,626"/>
</g>
<g style="stroke-width:2.8">
<path d="M826,716.6 L869,695.3" style="stroke-width:9.6;stroke-linecap:round"/>
<ellipse cx="828.1" cy="715.6" rx="1.4" ry="2.5" transform="rotate(-1.4 828.1 715.6)" style="fill:#fcfefb;stroke:none"/>
<ellipse cx="832.3" cy="713.5" rx="1.4" ry="2.5" transform="rotate(-1.4 832.3 713.5)" style="fill:#fcfefb;stroke:none"/>
<ellipse cx="836.4" cy="711.4" rx="1.4" ry="2.5" transform="rotate(-1.4 836.4 711.4)" style="fill:#fcfefb;stroke:none"/>
<ellipse cx="840.6" cy="709.4" rx="1.4" ry="2.5" transform="rotate(-1.4 840.6 709.4)" style="fill:#fcfefb;stroke:none"/>
<ellipse cx="844.8" cy="707.3" rx="1.4" ry="2.5" transform="rotate(-1.4 844.8 707.3)" style="fill:#fcfefb;stroke:none"/>
<ellipse cx="848.9" cy="705.2" rx="1.4" ry="2.5" transform="rotate(-1.4 848.9 705.2)" style="fill:#fcfefb;stroke:none"/>
<ellipse cx="853.1" cy="703.2" rx="1.4" ry="2.5" transform="rotate(-1.4 853.1 703.2)" style="fill:#fcfefb;stroke:none"/>
<ellipse cx="857.3" cy="701.1" rx="1.4" ry="2.5" transform="rotate(-1.4 857.3 701.1)" style="fill:#fcfefb;stroke:none"/>
<ellipse cx="861.5" cy="699" rx="1.4" ry="2.5" transform="rotate(-1.4 861.5 699)" style="fill:#fcfefb;stroke:none"/>
<ellipse cx="865.6" cy="697" rx="1.4" ry="2.5" transform="rotate(-1.4 865.6 697)" style="fill:#fcfefb;stroke:none"/>
<path class="pf" style="stroke-width:3.4" d="M876,681C876.6,680.6 879.5,678 881,677.5C882.5,677 887.5,676.6 889,677C890.5,677.4 892.7,679.2 893.5,680.5C894.3,681.8 895.4,686.2 895.5,688C895.6,689.8 894.8,694.5 894,696C893.2,697.5 890.5,699.9 889,700.5C887.5,701.1 882.5,701.6 881,701.5C879.5,701.4 877,699.7 876.5,699.5"/>
<ellipse class="pf" style="stroke-width:3.6" cx="874.5" cy="690.3" rx="4.6" ry="7.6" transform="rotate(22 874.5 690.3)"/>
<ellipse style="stroke-width:2" cx="874.2" cy="690.6" rx="1.6" ry="3" transform="rotate(22 874.2 690.6)"/>
<path style="stroke-width:2.6" d="M882.5,684.5C883.2,684.4 886.5,683.5 887.5,684C888.5,684.5 889.9,687.2 890,688.5C890.1,689.8 888.7,693.3 888.5,694"/>
<path style="stroke-width:2.4" d="M885,688 L886.5,693.5"/>
</g>
</g>
<!-- p25_cap -->
<g class="p">
<path d="M202.7,1495.9C204.3,1494.9 209.8,1493.7 213.1,1492.7C216.4,1491.7 224.2,1488.8 227.5,1488.1C230.8,1487.4 235.1,1486.9 237.9,1487.4C240.7,1487.9 245.6,1490.1 248.4,1492C251.2,1493.9 256.4,1498.7 258.8,1501.8C261.2,1504.9 265.2,1511.4 266.7,1514.9C268.2,1518.4 269.6,1524.4 269.9,1527.9C270.2,1531.4 269.4,1537.9 268.6,1541C267.8,1544.1 265.8,1549 264,1551.4C262.2,1553.8 257.9,1557.5 254.9,1559.3C251.9,1561.1 245.1,1564 241.8,1565.2C238.5,1566.4 233.4,1567.9 230.1,1568.4C226.8,1568.9 219.4,1569.6 217,1569.1C214.6,1568.6 213.7,1566.2 211.8,1564.5C209.9,1562.8 204.6,1557.8 202.7,1556.7C200.8,1555.6 198.5,1557.1 197.4,1556C196.3,1554.9 195.6,1550.3 194.8,1548.8C194,1547.3 192.1,1546.6 191.6,1544.9C191.1,1543.2 191.6,1538.1 190.9,1535.8C190.2,1533.5 186.7,1530.3 186.3,1527.9C185.9,1525.5 187.2,1519.6 187.6,1517.5C188,1515.4 188.5,1513.3 189.6,1512.2C190.7,1511.1 194.5,1511.2 196.1,1509.6C197.7,1508 200.4,1502.3 201.3,1500.5C202.2,1498.7 201.1,1496.9 202.7,1495.9Z"/>
<path d="M202.7,1495.9 L217.7,1494.6 L231.4,1490.7 L243.1,1493.3 L251,1500.5 L237.9,1504.4 L227.5,1503.1 L217.7,1494.6"/>
<path style="stroke-width:2" d="M223.5,1499.2 L239.2,1495.3 L247,1500.5"/>
<path d="M235.3,1505.7C236.2,1507.5 239.2,1512.5 240.5,1516.2C241.8,1519.9 242.4,1524.2 243.1,1527.9C243.8,1531.6 244.3,1536.7 244.5,1538.4"/>
<path d="M247.1,1544.9 L244.5,1552.7"/>
<path d="M241.2,1518.1C242.7,1517.8 256.9,1513.8 258.8,1514.2C260.7,1514.6 263,1521 263.4,1522.7C263.8,1524.4 265.1,1533.1 264,1534.5C262.9,1535.9 250.9,1538.6 249.7,1539"/>
<path style="stroke-width:2" d="M258.5,1518 L261.3,1533"/>
<path style="fill:#000" d="M231.4,1564.5 L237.9,1556.7 L257.5,1553.4 L253.6,1559.3Z"/>
<path d="M281,1514.9C280.1,1511.9 280.5,1506.6 281,1503.1C281.5,1499.6 283.2,1492 284.9,1488.7C286.6,1485.4 291.3,1480 294.1,1478.3C296.9,1476.6 303.2,1476 305.8,1475.7C308.4,1475.4 311.6,1474.5 313.7,1475.7C315.8,1476.9 319.4,1481.8 321.5,1484.8C323.6,1487.8 328,1494.2 329.4,1497.9C330.8,1501.6 331.8,1507.9 332,1512.2C332.2,1516.5 331.8,1527.5 330.7,1530.5C329.6,1533.5 326.9,1533.4 324.1,1534.5C321.3,1535.6 313.3,1538.4 309.8,1538.4C306.3,1538.4 301,1536.2 298,1534.5C295,1532.8 289.9,1527.9 287.6,1525.3C285.3,1522.7 281.9,1517.9 281,1514.9Z"/>
<ellipse cx="305.8" cy="1508.3" rx="16.5" ry="21.5" transform="rotate(-12 305.8 1508.3)"/>
<path style="stroke-width:2" d="M314.5,1528.4C313.8,1528.6 311.9,1529.4 310.6,1529.5C309.2,1529.7 307.8,1529.6 306.4,1529.3C305,1529 303.6,1528.5 302.3,1527.8C301,1527.1 299.7,1526.2 298.5,1525.1C297.3,1524 296.2,1522.8 295.3,1521.4C294.3,1520 293.4,1518.4 292.8,1516.8C292.1,1515.2 291.5,1513.5 291.2,1511.7C290.8,1510 290.6,1508.2 290.6,1506.4C290.5,1504.7 290.7,1502.9 291,1501.3C291.3,1499.6 291.8,1498 292.4,1496.5C293.1,1495.1 293.9,1493.7 294.8,1492.5C295.7,1491.3 296.8,1490.3 297.9,1489.5C299.1,1488.6 300.3,1488 301.6,1487.6C302.9,1487.2 305,1487.1 305.7,1487"/>
<path style="stroke-width:4.5" d="M314,1476.5C315.4,1478 319.8,1481.8 322.5,1485.5C325.2,1489.2 328.8,1494.1 330.5,1498.5C332.2,1502.9 332.6,1509.8 333,1512"/>
</g>
<!-- p28_tank -->
<g class="p">
<path d="M471.5,1392.3C469.6,1394.8 463.3,1404.4 460.2,1407.4C457.1,1410.4 455.8,1410.8 452.6,1410.2C449.5,1409.6 445.4,1404.7 441.3,1403.6C437.2,1402.5 432.8,1403.3 428.1,1403.6C423.4,1403.9 417.4,1405.2 413,1405.5C408.6,1405.8 404.8,1406.1 401.7,1405.5C398.6,1404.9 396.1,1403 394.2,1401.7C392.3,1400.4 393.4,1398.7 390.4,1397.9C387.4,1397.1 380.6,1396.4 376.2,1397C371.8,1397.6 367.8,1399.2 364,1401.7C360.2,1404.2 356.1,1407.8 353.6,1412.1C351.1,1416.3 350.3,1420.6 348.9,1427.2C347.5,1433.8 346.2,1443.9 345.1,1451.7C344,1459.5 342,1468.6 342.3,1474.3C342.6,1480 344.3,1481.9 347,1485.7C349.7,1489.5 351.7,1492 358.3,1497C364.9,1502 375.6,1508.9 386.6,1515.8C397.6,1522.7 411.7,1531.3 424.3,1538.5C436.9,1545.7 453.9,1554.7 462.1,1559.2C470.3,1563.8 469.3,1564.4 473.4,1565.8C477.5,1567.2 480.6,1567.8 486.6,1567.7C492.6,1567.6 500.7,1567.2 509.2,1564.9C517.7,1562.6 524,1560.2 537.5,1553.6C551,1547 573.8,1534.3 590,1525.3C606.2,1516.3 621.6,1506.7 634.7,1499.4C647.8,1492.1 657.5,1487.6 668.4,1481.5C679.3,1475.4 691.5,1468.6 699.9,1462.6C708.3,1456.6 713.8,1451.3 718.9,1445.7C724,1440.1 727.2,1434.9 730.4,1428.9C733.5,1422.9 735.2,1417.3 737.8,1409.9C740.4,1402.5 744.6,1391.7 746.2,1384.7C747.8,1377.7 747.5,1373.9 747.3,1367.9C747.1,1361.9 746.4,1354.5 745.2,1348.9C744,1343.3 742.5,1337.9 739.9,1334.2C737.3,1330.5 731.1,1328 729.4,1326.8"/>
<path d="M729.4,1326.8 L638.9,1278.4"/>
<path d="M638.9,1278.4C636.8,1277.2 630.5,1272.8 626.3,1271C622.1,1269.2 617.8,1268.1 613.6,1267.9C609.4,1267.7 605.9,1268.4 601,1270C596.1,1271.6 589.1,1274.8 584.2,1277.4C579.3,1280 574.8,1282.7 571.6,1285.8C568.4,1288.9 568.4,1290 565.2,1296.3C562,1302.6 556.5,1314.9 552.6,1323.7C548.8,1332.5 544.7,1342.2 542.1,1348.9C539.5,1355.6 537.7,1361.1 536.8,1363.6"/>
<path d="M481,1391 L500,1381.8 L536.8,1363.6 L578.9,1340.5"/>
<path d="M729.4,1338.4C723.4,1341.9 701,1354.1 693.6,1359.4C686.2,1364.7 687,1365.8 685.2,1370C683.5,1374.2 683.5,1382.2 683.1,1384.7"/>
<path d="M575.8,1291C578.6,1292.1 588.9,1295.1 592.6,1297.4C596.3,1299.7 597.4,1302.1 597.9,1304.7C598.4,1307.3 597.7,1310.3 595.8,1313.1C593.9,1315.9 588.4,1318.8 586.3,1321.6C584.2,1324.4 583.6,1328.6 583.1,1330"/>
<path d="M586.3,1321.6C588.4,1322.3 594.3,1325.3 598.9,1325.8C603.5,1326.3 611.1,1324.9 613.6,1324.7"/>
<path d="M614.7,1330 L628.4,1330.4"/>
<path d="M626.3,1333.1C624.9,1336.1 620.4,1346.3 617.9,1351C615.4,1355.7 618,1356.4 611.5,1361.5C605,1366.6 583.4,1380.4 578.9,1381.5C574.4,1382.6 582.3,1373 584.2,1367.9C586.1,1362.8 588,1355.9 590.5,1351C593,1346.1 595.8,1341.4 598.9,1338.4C602,1335.4 604.8,1334 609.4,1333.1C614,1332.2 623.5,1333.1 626.3,1333.1"/>
<path d="M583.1,1334.2C581.7,1337.7 577.3,1348.5 574.7,1355.2C572.1,1361.9 569.4,1370.8 567.3,1374.2C565.2,1377.6 563,1375.4 562.1,1375.6"/>
<path d="M567.3,1374.2 L575.8,1376.3"/>
<ellipse cx="607.3" cy="1348.5" rx="6" ry="8" transform="rotate(10 607.3 1348.5)"/>
<ellipse cx="607.3" cy="1348.5" rx="2.6" ry="3.4" transform="rotate(10 607.3 1348.5)"/>
<path d="M631.5,1341.5 L678.9,1364.7"/>
<path d="M624.2,1363.6 L670.5,1385.7"/>
<path d="M504.2,1388.9C506.7,1387.5 521,1377.8 525.3,1377.3C529.6,1376.8 539,1383.1 541,1384.7C543,1386.3 543.4,1389.4 542.1,1391C540.8,1392.6 532,1397.4 529.5,1398.4C527,1399.4 524,1400.5 521,1399.4C518,1398.3 506.2,1390.1 504.2,1388.9"/>
<path d="M480.9,1425.3C486.6,1427.9 531.4,1448.1 537.5,1451.7C543.6,1455.3 540.6,1459.6 541.5,1461C542.4,1462.4 544.8,1465 546,1465.5C547.2,1466 549.6,1467.8 554,1465.8C558.4,1463.8 577.5,1452.6 590,1445.1C602.5,1437.6 670,1396.4 678.9,1391"/>
<path d="M364,1419.6 L405.5,1441.3"/>
<path d="M441.3,1460.2 L474.3,1478.1"/>
<path d="M490.4,1476.2 L528.1,1456.4"/>
<path d="M475.3,1493.2C474.5,1497.6 471.6,1512.7 470.6,1519.6C469.7,1526.5 468.8,1530 469.6,1534.7C470.4,1539.4 472.3,1543.5 475.3,1547.9C478.3,1552.3 485.5,1558.9 487.5,1561.1"/>
<path d="M352.6,1485.3 L362.6,1491"/>
<path d="M401.8,1511 L458.3,1540.4"/>
<path d="M421.4,1447.4C422.8,1447.3 434,1446.2 435.8,1446.5C437.6,1446.8 439.3,1448.6 439.3,1450C439.3,1451.4 435.8,1459.5 435.4,1460.5"/>
<path d="M435.8,1464.8C435.6,1467.1 435.5,1474.1 434.5,1478.8C433.5,1483.5 430.5,1490.4 429.7,1492.7"/>
<ellipse cx="479" cy="1444.2" rx="18" ry="10.2" transform="rotate(-3 479 1444.2)"/>
<path d="M463,1443 C468,1435.5 490,1434 495.5,1441"/>
<path d="M482.8,1398.9 L496,1397.9 L516.8,1415.8 L493.2,1428.1 L481.9,1425.3"/>
<ellipse cx="487.5" cy="1414" rx="5.5" ry="7.5" transform="rotate(12 487.5 1414)"/>
<ellipse cx="488" cy="1414.5" rx="2.2" ry="3" transform="rotate(12 488 1414.5)"/>
<path d="M481,1389.4 L499.8,1381.9"/>
<path stroke-dasharray="6 4" d="M460.2,1412.1 L471.5,1419.6"/>
<path d="M470,1417.5 L475,1414"/>
<ellipse class="pf" cx="383.6" cy="1482.3" rx="21.6" ry="29.6" transform="rotate(-12 383.6 1482.3)"/>
<ellipse cx="383.7" cy="1484" rx="15" ry="19.6" transform="rotate(-10 383.7 1484)"/>
<path style="stroke-width:2.3" d="M386.2,1453.3C387,1453.5 389.4,1453.8 391,1454.4C392.6,1455 394.2,1455.8 395.8,1456.9C397.3,1457.9 398.7,1459.2 400.1,1460.6C401.4,1462 402.7,1463.7 403.8,1465.4C404.9,1467.1 405.9,1469.1 406.7,1471C407.6,1473 408.2,1475.1 408.7,1477.2C409.2,1479.4 409.6,1481.6 409.7,1483.7C409.9,1485.9 409.8,1488.1 409.6,1490.1C409.4,1492.2 409,1494.3 408.5,1496.2C407.9,1498.1 407.2,1499.9 406.3,1501.6C405.4,1503.2 404.3,1504.7 403.2,1506C402,1507.3 400.7,1508.4 399.4,1509.3C398,1510.2 396.5,1510.9 394.9,1511.3C393.4,1511.7 391,1511.8 390.2,1511.9"/>
<path style="stroke-width:2.3" d="M390.3,1454.2C391.1,1454.4 393.6,1454.7 395.2,1455.3C396.7,1455.8 398.4,1456.6 399.9,1457.6C401.4,1458.6 402.8,1459.9 404.2,1461.3C405.5,1462.7 406.7,1464.3 407.9,1466C409,1467.7 409.9,1469.5 410.8,1471.5C411.6,1473.4 412.2,1475.5 412.7,1477.6C413.2,1479.6 413.6,1481.8 413.7,1483.9C413.8,1486 413.8,1488.2 413.6,1490.2C413.4,1492.2 412.9,1494.3 412.4,1496.1C411.8,1498 411.1,1499.8 410.2,1501.4C409.3,1503 408.2,1504.5 407.1,1505.8C405.9,1507.1 404.6,1508.2 403.2,1509C401.9,1509.9 400.4,1510.6 398.8,1511C397.3,1511.4 394.9,1511.5 394.1,1511.6"/>
<path style="stroke-width:2.3" d="M394.7,1455.2C395.5,1455.4 398,1455.6 399.6,1456.2C401.2,1456.7 402.8,1457.5 404.3,1458.5C405.7,1459.5 407.2,1460.7 408.5,1462C409.9,1463.4 411.1,1465 412.2,1466.6C413.3,1468.3 414.3,1470.1 415.1,1472C415.9,1473.9 416.6,1476 417,1478C417.5,1480 417.8,1482.1 418,1484.2C418.1,1486.3 418,1488.4 417.8,1490.4C417.6,1492.4 417.2,1494.3 416.6,1496.2C416,1498 415.3,1499.8 414.4,1501.4C413.5,1503 412.4,1504.4 411.3,1505.7C410.1,1506.9 408.8,1508 407.4,1508.9C406,1509.7 404.5,1510.4 403,1510.8C401.5,1511.3 399,1511.3 398.2,1511.4"/>
<path d="M380.9,1455.4 L400.1,1463.5"/>
<path d="M395.7,1453.1C396.9,1452.9 400.9,1452.7 402.7,1451.8C404.5,1450.9 406,1448.6 406.6,1447.9"/>
<path d="M416.6,1499.7 L426.2,1499.7"/>
</g>
<!-- p29_washer_screw -->
<g class="p">
<ellipse cx="781" cy="1440.8" rx="10" ry="13.3" transform="rotate(20 781 1440.8)"/>
<ellipse cx="781" cy="1440.8" rx="3.8" ry="4.9" transform="rotate(20 781 1440.8)"/>
<g style="stroke-width:2.4">
<path d="M836,1465 L821,1457.5"/>
<path d="M821,1457.5C820.4,1457.8 818.2,1458 817.5,1459C816.8,1460 816.6,1462.1 816.8,1463.5C817,1464.9 818.2,1466.8 818.5,1467.5"/>
<path d="M818.5,1467.5 L833,1474.5"/>
<path d="M822.7,1458.5 L819.9,1467.5"/>
<path d="M826.3,1460.2 L823.5,1469.2"/>
<path d="M829.9,1462 L827.1,1471"/>
<path d="M833.5,1463.8 L830.7,1472.8"/>
<ellipse class="pf" cx="838.5" cy="1474" rx="6.5" ry="15" transform="rotate(24 838.5 1474)"/>
<path class="pf" d="M841,1461.5C842.2,1461.2 845.9,1459.8 848,1459.8C850.1,1459.8 851.8,1460.3 853.5,1461.5C855.2,1462.7 857,1464.9 858,1467C859,1469.1 859.5,1471.7 859.6,1474C859.7,1476.3 859.4,1478.9 858.5,1481C857.6,1483.1 855.8,1485.3 854,1486.5C852.2,1487.7 850,1488.1 848,1488.2C846,1488.3 843,1487.2 842,1487"/>
<ellipse class="pf" cx="848.5" cy="1474.5" rx="9.5" ry="12.5" transform="rotate(20 848.5 1474.5)"/>
<path style="stroke-width:2" d="M852,1470.5C852.5,1471.2 855.2,1473.3 855,1475C854.8,1476.7 851.2,1479.6 850.5,1480.5"/>
<path style="stroke-width:2" d="M850.8,1474.5 L853.5,1475.5"/>
</g>
</g>
<!-- p31_fuel -->
<g class="p">
<path class="pf" style="stroke-width:2.8" d="M1117.3,1133 L1123.6,1470 L1138.1,1470 L1132.2,1133"/>
<ellipse style="fill:#000" cx="1124.8" cy="1132.5" rx="7.6" ry="4.6"/>
<path style="stroke-width:3.4;stroke-linecap:butt" d="M1122.3,1471.2 L1139.4,1471.2"/>
<path class="pf" style="stroke-width:2.8" d="M1175.3,1291 L1178,1411.5 L1193.3,1411.5 L1191,1291"/>
<ellipse style="fill:#000" cx="1183.2" cy="1290.5" rx="7.8" ry="4.2"/>
<ellipse style="fill:#fcfefb;stroke:none" cx="1183.4" cy="1291.5" rx="3" ry="1.2"/>
<path style="stroke-width:3.2;stroke-linecap:butt" d="M1177,1412.6 L1194.4,1412.6"/>
<path d="M1035.8,1403.4C1037.2,1405.8 1041.8,1412.8 1044.5,1417.9C1047.2,1423 1050,1428.3 1051.8,1433.9C1053.6,1439.5 1054.7,1445 1055.4,1451.3C1056.1,1457.6 1056,1464.5 1056.1,1471.6C1056.2,1478.7 1056.1,1490.3 1056.1,1494"/>
<path d="M1046,1393.9C1047.7,1396.2 1053,1402.5 1056.1,1407.7C1059.2,1412.9 1062.6,1419.4 1064.8,1425.2C1067,1431 1068.3,1436.1 1069.2,1442.6C1070.1,1449.1 1070.2,1455.7 1070.3,1464.3C1070.4,1472.9 1070,1489 1069.9,1494"/>
<path style="stroke-width:3.4;stroke-linecap:butt" d="M1054.6,1495.5 L1071.4,1495.5"/>
<ellipse style="fill:#000" cx="1039.6" cy="1397" rx="5.6" ry="5.2" transform="rotate(-30 1039.6 1397)"/>
<ellipse style="fill:#fcfefb;stroke:none" cx="1039.8" cy="1397" rx="2" ry="1.5" transform="rotate(-30 1039.8 1397)"/>
<path d="M1167.7,1217.5C1167.7,1216.3 1167.3,1210.8 1167.7,1208.7C1168.1,1206.6 1168.8,1202.9 1170.6,1201.4C1172.4,1199.9 1178.6,1197.9 1181.5,1197.8C1184.4,1197.7 1190.5,1199.2 1192.4,1200.7C1194.3,1202.2 1195.5,1206.5 1196,1208.7C1196.5,1210.9 1196,1216.3 1196,1217.5"/>
<path d="M1168.4,1211.6C1170.6,1212.1 1177,1214.9 1181.5,1214.8C1186,1214.7 1193,1211.6 1195.3,1210.9"/>
<path d="M1167.7,1217.5C1167.9,1217.8 1168.9,1222.2 1170.6,1222.5C1172.3,1222.8 1191.4,1222.8 1193.1,1222.5C1194.8,1222.2 1195.8,1217.8 1196,1217.5"/>
<path d="M1169.9,1223.2C1170,1224.9 1169.6,1230.9 1170.6,1233.4C1171.6,1235.9 1174.5,1237.2 1175.7,1238.4C1176.9,1239.6 1177.5,1239.7 1177.9,1240.6C1178.3,1241.5 1178.2,1243.4 1178.3,1244"/>
<path d="M1193.8,1223.2C1193.6,1224.9 1193.6,1230.9 1192.4,1233.4C1191.2,1235.9 1187.8,1237.2 1186.6,1238.4C1185.4,1239.6 1185.4,1239.7 1185.1,1240.6C1184.8,1241.5 1184.8,1243.4 1184.7,1244"/>
<path style="stroke-width:2.2" d="M1176,1239 L1187,1239"/>
<ellipse cx="1181.5" cy="1248.6" rx="6.6" ry="5"/>
<path style="stroke-width:2.2" d="M1177,1243.8 L1186,1243.8"/>
<ellipse class="pf" cx="1137.4" cy="1493.4" rx="21.8" ry="12.5"/>
<ellipse cx="1129.4" cy="1498.6" rx="3.9" ry="3.3"/>
<ellipse cx="1146.1" cy="1494.8" rx="4.2" ry="3.5"/>
<path d="M1115.6,1494 L1115.6,1509.3"/>
<path d="M1159.2,1494 L1159.2,1508.5"/>
<path d="M1159.1,1502.5C1159,1502.8 1158.7,1504 1158.2,1504.7C1157.8,1505.5 1157.2,1506.2 1156.4,1506.9C1155.7,1507.6 1154.8,1508.2 1153.7,1508.8C1152.7,1509.4 1151.6,1509.9 1150.3,1510.4C1149.1,1510.8 1147.8,1511.2 1146.4,1511.5C1145,1511.8 1143.5,1512.1 1142,1512.3C1140.5,1512.4 1138.9,1512.5 1137.4,1512.5C1135.9,1512.5 1134.3,1512.4 1132.8,1512.3C1131.3,1512.1 1129.8,1511.8 1128.4,1511.5C1127,1511.2 1125.7,1510.8 1124.5,1510.4C1123.2,1509.9 1122.1,1509.4 1121.1,1508.8C1120,1508.2 1119.1,1507.6 1118.4,1506.9C1117.6,1506.2 1117,1505.5 1116.6,1504.7C1116.1,1504 1115.8,1502.8 1115.7,1502.5"/>
<path d="M1159.1,1508.9C1159,1509.2 1158.7,1510.3 1158.2,1510.9C1157.8,1511.6 1157.2,1512.3 1156.4,1512.9C1155.7,1513.5 1154.8,1514.1 1153.7,1514.6C1152.7,1515.1 1151.6,1515.6 1150.3,1516C1149.1,1516.5 1147.8,1516.8 1146.4,1517.1C1145,1517.4 1143.5,1517.6 1142,1517.8C1140.5,1517.9 1138.9,1518 1137.4,1518C1135.9,1518 1134.3,1517.9 1132.8,1517.8C1131.3,1517.6 1129.8,1517.4 1128.4,1517.1C1127,1516.8 1125.7,1516.5 1124.5,1516C1123.2,1515.6 1122.1,1515.1 1121.1,1514.6C1120,1514.1 1119.1,1513.5 1118.4,1512.9C1117.6,1512.3 1117,1511.6 1116.6,1510.9C1116.1,1510.3 1115.8,1509.2 1115.7,1508.9"/>
<path style="fill:#000" d="M1119,1514 Q1137.4,1524 1156,1513 L1152,1519 Q1137.4,1531 1122,1519.5 Z"/>
<path style="stroke-width:2.4" d="M1127.5,1480.5 L1129.6,1492"/>
<path style="stroke-width:2.2" d="M1141,1481.5C1140.3,1481.6 1135.2,1482 1134.5,1482.5C1133.8,1483 1133.2,1486 1133.6,1486.5C1134,1487 1137.7,1486.6 1138.2,1487C1138.7,1487.4 1139,1490.1 1138.6,1490.6C1138.2,1491.1 1134.3,1491.5 1133.8,1491.6"/>
<ellipse style="stroke-width:3.8;fill:#000" cx="1132.8" cy="1570" rx="4.8" ry="3" transform="rotate(-8 1132.8 1570)"/>
<ellipse style="fill:#fcfefb;stroke:none" cx="1132.2" cy="1570.6" rx="1.6" ry="0.9" transform="rotate(-8 1132.2 1570.6)"/>
<path style="stroke-width:3" d="M1129,1572.5 L1126.8,1575"/>
<path d="M1114,1611 L1114,1651.5"/>
<path d="M1145.9,1611 L1145.9,1652"/>
<path d="M1114,1651.5C1114.3,1652.2 1114.9,1654.7 1116,1656C1117.1,1657.3 1118.1,1658.7 1120.4,1659.6C1122.7,1660.5 1127.2,1661.5 1129.7,1661.3C1132.2,1661.1 1134.5,1658.9 1135.5,1658.4"/>
<path d="M1114,1611.5C1114.3,1610.7 1114.4,1607.8 1116,1606.5C1117.6,1605.2 1122.2,1604.1 1123.5,1603.6"/>
<path d="M1145.9,1611.5C1145.5,1610.6 1145.2,1607.4 1143.5,1606C1141.8,1604.6 1136.8,1603.8 1135.5,1603.3"/>
<path d="M1114.6,1615.5C1115.8,1616.1 1119.5,1618.2 1122,1619C1124.5,1619.8 1127,1620.1 1129.7,1620.1C1132.4,1620.1 1135.4,1619.8 1138,1618.8C1140.6,1617.8 1144.1,1615 1145.3,1614.3"/>
<path style="stroke-width:2.2" d="M1117.5,1610C1118.4,1610.7 1121,1613.3 1123,1614.2C1125,1615.1 1127.4,1615.4 1129.7,1615.4C1132,1615.4 1135,1615 1137,1614C1139,1613 1141.2,1610.2 1142,1609.5"/>
<path d="M1114.6,1635.2C1115.6,1635.5 1123,1638.4 1125,1638.7C1127,1639 1133.4,1638.7 1134.3,1638.7"/>
<ellipse class="pf" cx="1129.4" cy="1591.1" rx="7.3" ry="6.8"/>
<ellipse style="stroke-width:1.6" cx="1125.6" cy="1591.3" rx="1.3" ry="2"/>
<ellipse style="stroke-width:1.6" cx="1132.6" cy="1591.3" rx="1.3" ry="2"/>
<path d="M1125,1597.3C1124.9,1598.2 1125,1601.4 1124.6,1603C1124.2,1604.6 1122.8,1606.3 1122.5,1607"/>
<path d="M1133.7,1597.3C1133.8,1598.2 1133.8,1601.4 1134.3,1603C1134.8,1604.6 1136.1,1606.3 1136.5,1607"/>
<path style="stroke-width:2" d="M1126,1610.5 L1132,1610.5"/>
<rect class="pf" x="1135" y="1625.5" width="9" height="32" rx="4"/>
<rect x="1138" y="1629" width="3.6" height="24" rx="1.8" style="stroke-width:1.8"/>
</g>
<!-- p40_hdfilter -->
<g class="p">
<g style="stroke-width:3.2">
<path d="M142.7,900.2C143.3,900 144.6,898 147.7,898.6C150.8,899.2 162.2,901.7 169.1,905.2C176,908.7 201.1,924.7 206.7,928.6C212.3,932.5 215,936.2 216.8,938.8C218.6,941.4 221.1,947.2 221.9,951C222.7,954.8 223.7,965.4 223.9,971.3C224.1,977.2 223.9,996.7 223.4,1001.8C222.9,1006.9 220.9,1012.7 219.9,1015C218.9,1017.3 215.4,1020.4 214.8,1021.1"/>
<path style="stroke-width:2.6" d="M130.5,900.2C132,900.7 135.2,900.4 143.7,904.2C152.2,908 195.7,928.2 203.6,932.7C211.5,937.2 210.1,939.7 211.8,942.8C213.5,945.9 216.9,954.6 217.8,959.1C218.7,963.6 219.8,975.2 219.9,981.4C220,987.6 219.5,1006.8 218.9,1011.9C218.3,1017 215.3,1023.6 214.8,1025.1"/>
<path class="pf" d="M112.2,916.4C112.7,912.8 114.3,906.9 115.2,905.2C116.1,903.5 119.8,899.8 121.3,899.1C122.8,898.4 122.5,894.2 130.5,898.1C138.5,902 193.7,932.9 201.6,937.8C209.5,942.7 208.5,944.8 209.7,946.9C210.9,949 213.2,955.6 213.8,959.1C214.4,962.6 215.7,975.6 215.8,981.4C215.9,987.2 215.3,1011.9 214.8,1017C214.3,1022.1 211.6,1030 210.7,1032.2C209.8,1034.4 207,1038.4 205.7,1039.3C204.4,1040.2 199.1,1041.5 197.5,1041.4C195.9,1041.3 196.1,1042 189.4,1038.3C182.7,1034.6 137.4,1009.2 130.5,1004.8C123.6,1000.4 121.8,996.9 120.3,994.6C118.8,992.3 116.2,986.8 115.2,981.4C114.2,976 110.5,947.3 110.2,940.8C109.9,934.3 111.7,920 112.2,916.4Z"/>
<path d="M142.7,957.1C141.2,956.1 126.4,946.3 124.4,944.9C122.5,943.5 119.6,943.3 119.3,940.8C119,938.3 119.9,917.9 120.3,915.4C120.7,912.9 123.6,911.1 124.4,910.8C125.2,910.5 127.8,910.1 130.5,911.3C133.2,912.5 154.7,924.4 156.9,925.6"/>
<path d="M197.5,963.2C197.8,963.9 200.3,969 200.6,971.3C200.9,973.6 201.9,989 201.6,990.6C201.3,992.2 199.3,991.5 197.5,990.6C195.7,989.7 181.7,980.3 180.3,979.4"/>
<path style="fill:#000;stroke-width:2.4" d="M157.9,928.6 L163,930.6 L197.5,957.1 L196.5,964.2 L191.4,963.2 L165,940.8 L159.9,932.7Z"/>
<path d="M142.7,961.1C140.7,960.1 124.8,951.8 122.4,951C120,950.2 118.5,951 118.3,953C118.1,955 119.8,969 120.3,971.3C120.8,973.6 123.1,975.9 123.4,976.4"/>
<path style="fill:#000;stroke-width:2.4" d="M121.3,974.3 L130.5,976.4 L156.9,1003.8 L156.9,1008.9 L148.8,1007.8 L125.4,984.5Z"/>
<path d="M156.9,1008.9C159.2,1010.3 188.8,1028 191.4,1029.2C194,1030.4 195.9,1029.3 196.5,1027.1C197.1,1024.9 200,998 200.1,995.7C200.2,993.4 198.9,993.6 197.5,992.6C196.1,991.6 180.4,982.1 179.2,981.4"/>
<ellipse class="pf" cx="159.9" cy="970.3" rx="16.5" ry="19.5" transform="rotate(-28 159.9 970.3)"/>
<ellipse cx="157.9" cy="970.6" rx="11.8" ry="15.2" transform="rotate(-25 157.9 970.6)"/>
<ellipse style="stroke-width:2.6" cx="160.2" cy="970.6" rx="6.6" ry="9.4" transform="rotate(-25 160.2 970.6)"/>
<ellipse style="stroke-width:2.2" cx="161.2" cy="970.6" rx="2.6" ry="4.8" transform="rotate(-25 161.2 970.6)"/>
</g>
</g>
<g class="n" opacity="0.999">
<text transform="translate(84.6 584.2) scale(0.85 1)" style="font-size:24.5px">1</text>
<text transform="translate(126.5 496.3) scale(0.66 1)">2</text>
<text transform="translate(188.6 389.8) scale(0.66 1)">3</text>
<text transform="translate(283.6 360.3) scale(0.84 1)" style="font-size:26px">*4</text>
<text transform="translate(494.5 608.6) scale(0.66 1)">5</text>
<text transform="translate(552 581.9) scale(0.66 1)">6</text>
<text transform="translate(651 521.3) scale(0.66 1)">7</text>
<text transform="translate(506.8 238.8) scale(0.66 1)">8</text>
<text transform="translate(622 194.7) scale(0.66 1)">9</text>
<text transform="translate(714.8 144.3) scale(0.66 1)">10</text>
<text transform="translate(814.3 82.3) scale(0.66 1)">11</text>
<text transform="translate(986.5 301.7) scale(0.66 1)">12</text>
<text transform="translate(905.5 348.7) scale(0.66 1)">13</text>
<text transform="translate(801 410) scale(0.66 1)">14</text>
<text transform="translate(893.3 1042.8) scale(0.66 1)">15</text>
<text transform="translate(614.5 735.1) scale(0.66 1)">16</text>
<text transform="translate(378 846.5) scale(0.66 1)">16</text>
<text transform="translate(502 781.5) scale(0.66 1)">17</text>
<text transform="translate(792.5 999.4) scale(0.66 1)">18</text>
<text transform="translate(972 909.1) scale(0.66 1)">19</text>
<text transform="translate(1042 860.8) scale(0.66 1)">20</text>
<text transform="translate(1137.7 805.7) scale(0.66 1)">21</text>
<text transform="translate(1235.8 745.8) scale(0.66 1)">22</text>
<text transform="translate(793.8 627.8) scale(0.66 1)">23</text>
<text transform="translate(873.6 614.3) scale(0.66 1)">24</text>
<text transform="translate(235 1363) scale(0.66 1)">25</text>
<text transform="translate(290 1448.7) scale(0.66 1)">26</text>
<text transform="translate(649.4 1206.2) scale(0.66 1)">28</text>
<text transform="translate(802.6 1332.7) scale(0.66 1)">29</text>
<text transform="translate(924 1388.3) scale(0.66 1)">30</text>
<text transform="translate(1275 1203.8) scale(0.66 1)">31</text>
<text transform="translate(1013.7 1298.3) scale(0.66 1)">32</text>
<text transform="translate(1277 1358.8) scale(0.66 1)">33</text>
<text transform="translate(1013 1469.5) scale(0.66 1)">34</text>
<text transform="translate(1274.5 1496.5) scale(0.66 1)">35</text>
<text transform="translate(1277 1601.5) scale(0.66 1)">36</text>
<text transform="translate(1277 1687.5) scale(0.66 1)">37</text>
</g>
<rect x="53" y="882" width="244" height="238" fill="none" stroke="#000" stroke-width="2.4"/>
<g opacity="0.999">
<text class="t" x="65.5" y="1074.4">*OPTIONAL</text>
<text class="t" x="74" y="1107">AIR FILTER (HD)</text>
<text class="a" x="475.7" y="1301.5">A</text>
<text class="a" x="1130" y="1754.4">A</text>
</g>

<g style="font-family:'Liberation Serif',serif;font-size:38px;letter-spacing:0.9px">
<text x="1219.2" y="1785.8" fill="#c9c9c9" opacity="0.8">motoruf</text>
<text x="1218.2" y="1784.6"><tspan fill="#4b6cb7">m</tspan><tspan fill="#3db54a">o</tspan><tspan fill="#f067a6">t</tspan><tspan fill="#22a846">o</tspan><tspan fill="#f15a24">r</tspan><tspan fill="#f7931e">u</tspan><tspan fill="#fcd20a">f</tspan></text>
</g>
<text x="1347.6" y="1784.8" style="font-family:'Liberation Sans',sans-serif;font-size:14.5px" fill="#3a3a28">.de</text>
<circle cx="1351.8" cy="1760" r="1" fill="#888"/>

</svg></body></html>
